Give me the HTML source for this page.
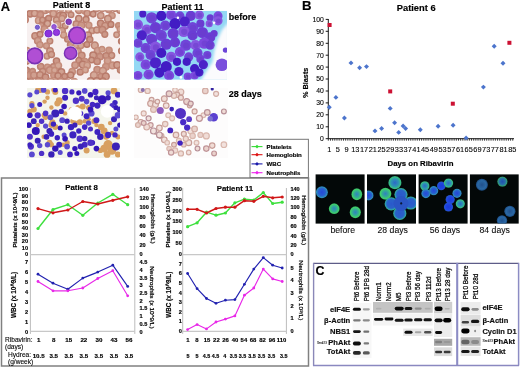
<!DOCTYPE html>
<html><head><meta charset="utf-8"><style>
html,body{margin:0;padding:0;background:#fff;width:520px;height:368px;overflow:hidden;}
svg{display:block;font-family:"Liberation Sans",sans-serif;filter:blur(0.35px);}
text[font-weight="bold"]{stroke:#000;stroke-width:0.16px;paint-order:stroke;}
text{stroke:#000;stroke-width:0.1px;paint-order:stroke;}
</style></head><body>
<svg width="520" height="368" viewBox="0 0 520 368" font-family="Liberation Sans">
<rect width="520" height="368" fill="#fff"/>
<filter id="mb" x="-30%" y="-30%" width="160%" height="160%"><feGaussianBlur stdDeviation="0.45"/></filter>
<filter id="mb2" x="-30%" y="-30%" width="160%" height="160%"><feGaussianBlur stdDeviation="1.5"/></filter>
<clipPath id="c1"><rect x="27" y="10.3" width="93" height="69.5"/></clipPath>
<g clip-path="url(#c1)">
<rect x="27" y="10.3" width="93" height="69.5" fill="#f7f0f0"/>
<circle cx="31.8" cy="9.3" r="2.8" fill="#d4a898" stroke="#c48c7a" stroke-width="1.5" filter="url(#mb)"/>
<circle cx="38.1" cy="8.5" r="2.8" fill="#d4a898" stroke="#bc8070" stroke-width="1.5" filter="url(#mb)"/>
<circle cx="44.9" cy="10.4" r="3.1" fill="#d4a898" stroke="#c08676" stroke-width="1.5" filter="url(#mb)"/>
<circle cx="48.4" cy="9.4" r="2.8" fill="#d4a898" stroke="#c08676" stroke-width="1.5" filter="url(#mb)"/>
<circle cx="54.4" cy="9.2" r="3.3" fill="#d4a898" stroke="#c08676" stroke-width="1.5" filter="url(#mb)"/>
<circle cx="60.9" cy="8.1" r="3.2" fill="#d4a898" stroke="#c48c7a" stroke-width="1.5" filter="url(#mb)"/>
<circle cx="68.5" cy="10.1" r="2.9" fill="#d4a898" stroke="#c08676" stroke-width="1.5" filter="url(#mb)"/>
<circle cx="78.9" cy="10.1" r="3.4" fill="#d0a090" stroke="#bc8070" stroke-width="1.5" filter="url(#mb)"/>
<circle cx="84.3" cy="10.3" r="3.4" fill="#cc9888" stroke="#c48c7a" stroke-width="1.5" filter="url(#mb)"/>
<circle cx="96.2" cy="8.3" r="3.4" fill="#d0a090" stroke="#bc8070" stroke-width="1.5" filter="url(#mb)"/>
<circle cx="102.1" cy="8.3" r="3.3" fill="#d4a898" stroke="#c08676" stroke-width="1.5" filter="url(#mb)"/>
<circle cx="108.7" cy="9.2" r="3.2" fill="#cc9888" stroke="#c08676" stroke-width="1.5" filter="url(#mb)"/>
<circle cx="114.8" cy="8.4" r="2.8" fill="#d4a898" stroke="#b87a6a" stroke-width="1.5" filter="url(#mb)"/>
<circle cx="119.9" cy="10.2" r="3.0" fill="#d0a090" stroke="#bc8070" stroke-width="1.5" filter="url(#mb)"/>
<circle cx="30.1" cy="13.7" r="3.2" fill="#cc9888" stroke="#b87a6a" stroke-width="1.5" filter="url(#mb)"/>
<circle cx="34.6" cy="13.4" r="3.1" fill="#d4a898" stroke="#bc8070" stroke-width="1.5" filter="url(#mb)"/>
<circle cx="40.4" cy="14.7" r="3.1" fill="#cc9888" stroke="#c08676" stroke-width="1.5" filter="url(#mb)"/>
<circle cx="53.3" cy="13.8" r="3.2" fill="#d4a898" stroke="#c08676" stroke-width="1.5" filter="url(#mb)"/>
<circle cx="59.5" cy="15.4" r="3.0" fill="#d0a090" stroke="#bc8070" stroke-width="1.5" filter="url(#mb)"/>
<circle cx="63.2" cy="15.5" r="3.2" fill="#cc9888" stroke="#b87a6a" stroke-width="1.5" filter="url(#mb)"/>
<circle cx="71.0" cy="14.7" r="2.8" fill="#d0a090" stroke="#bc8070" stroke-width="1.5" filter="url(#mb)"/>
<circle cx="87.2" cy="13.3" r="3.0" fill="#d0a090" stroke="#bc8070" stroke-width="1.5" filter="url(#mb)"/>
<circle cx="93.1" cy="14.1" r="2.8" fill="#d0a090" stroke="#b87a6a" stroke-width="1.5" filter="url(#mb)"/>
<circle cx="100.7" cy="15.6" r="3.2" fill="#d4a898" stroke="#c08676" stroke-width="1.5" filter="url(#mb)"/>
<circle cx="112.0" cy="15.5" r="3.1" fill="#d0a090" stroke="#c48c7a" stroke-width="1.5" filter="url(#mb)"/>
<circle cx="25.0" cy="19.7" r="3.3" fill="#cc9888" stroke="#c08676" stroke-width="1.5" filter="url(#mb)"/>
<circle cx="38.8" cy="20.5" r="3.3" fill="#d4a898" stroke="#c48c7a" stroke-width="1.5" filter="url(#mb)"/>
<circle cx="42.5" cy="20.0" r="2.7" fill="#d0a090" stroke="#bc8070" stroke-width="1.5" filter="url(#mb)"/>
<circle cx="48.6" cy="18.6" r="3.0" fill="#cc9888" stroke="#b87a6a" stroke-width="1.5" filter="url(#mb)"/>
<circle cx="56.5" cy="20.0" r="3.0" fill="#d4a898" stroke="#bc8070" stroke-width="1.5" filter="url(#mb)"/>
<circle cx="62.0" cy="18.4" r="3.0" fill="#d4a898" stroke="#c08676" stroke-width="1.5" filter="url(#mb)"/>
<circle cx="78.8" cy="18.7" r="3.1" fill="#d4a898" stroke="#b87a6a" stroke-width="1.5" filter="url(#mb)"/>
<circle cx="86.0" cy="19.6" r="3.0" fill="#d0a090" stroke="#b87a6a" stroke-width="1.5" filter="url(#mb)"/>
<circle cx="107.9" cy="18.7" r="3.3" fill="#d4a898" stroke="#bc8070" stroke-width="1.5" filter="url(#mb)"/>
<circle cx="41.3" cy="25.5" r="2.9" fill="#cc9888" stroke="#bc8070" stroke-width="1.5" filter="url(#mb)"/>
<circle cx="47.5" cy="23.6" r="3.1" fill="#d4a898" stroke="#b87a6a" stroke-width="1.5" filter="url(#mb)"/>
<circle cx="57.6" cy="24.6" r="3.3" fill="#d0a090" stroke="#c08676" stroke-width="1.5" filter="url(#mb)"/>
<circle cx="65.1" cy="25.9" r="2.8" fill="#d0a090" stroke="#b87a6a" stroke-width="1.5" filter="url(#mb)"/>
<circle cx="76.1" cy="23.9" r="3.0" fill="#d0a090" stroke="#bc8070" stroke-width="1.5" filter="url(#mb)"/>
<circle cx="81.4" cy="25.4" r="3.4" fill="#cc9888" stroke="#c08676" stroke-width="1.5" filter="url(#mb)"/>
<circle cx="88.8" cy="25.2" r="3.0" fill="#d0a090" stroke="#c48c7a" stroke-width="1.5" filter="url(#mb)"/>
<circle cx="100.7" cy="23.5" r="3.2" fill="#cc9888" stroke="#b87a6a" stroke-width="1.5" filter="url(#mb)"/>
<circle cx="105.2" cy="25.9" r="3.3" fill="#d0a090" stroke="#bc8070" stroke-width="1.5" filter="url(#mb)"/>
<circle cx="110.9" cy="24.4" r="2.9" fill="#cc9888" stroke="#b87a6a" stroke-width="1.5" filter="url(#mb)"/>
<circle cx="118.4" cy="25.6" r="2.8" fill="#cc9888" stroke="#c48c7a" stroke-width="1.5" filter="url(#mb)"/>
<circle cx="44.4" cy="29.0" r="3.3" fill="#cc9888" stroke="#c08676" stroke-width="1.5" filter="url(#mb)"/>
<circle cx="61.9" cy="30.9" r="3.4" fill="#d0a090" stroke="#bc8070" stroke-width="1.5" filter="url(#mb)"/>
<circle cx="92.0" cy="30.7" r="2.9" fill="#d4a898" stroke="#c08676" stroke-width="1.5" filter="url(#mb)"/>
<circle cx="96.9" cy="30.0" r="3.1" fill="#d4a898" stroke="#bc8070" stroke-width="1.5" filter="url(#mb)"/>
<circle cx="102.4" cy="29.9" r="3.3" fill="#cc9888" stroke="#bc8070" stroke-width="1.5" filter="url(#mb)"/>
<circle cx="120.2" cy="29.2" r="2.9" fill="#d4a898" stroke="#c48c7a" stroke-width="1.5" filter="url(#mb)"/>
<circle cx="35.1" cy="36.0" r="3.2" fill="#d0a090" stroke="#bc8070" stroke-width="1.5" filter="url(#mb)"/>
<circle cx="40.0" cy="34.3" r="2.9" fill="#d0a090" stroke="#b87a6a" stroke-width="1.5" filter="url(#mb)"/>
<circle cx="63.6" cy="35.0" r="3.0" fill="#d4a898" stroke="#c48c7a" stroke-width="1.5" filter="url(#mb)"/>
<circle cx="88.1" cy="35.2" r="3.3" fill="#d0a090" stroke="#b87a6a" stroke-width="1.5" filter="url(#mb)"/>
<circle cx="104.8" cy="34.3" r="2.9" fill="#cc9888" stroke="#bc8070" stroke-width="1.5" filter="url(#mb)"/>
<circle cx="116.6" cy="34.7" r="2.7" fill="#d4a898" stroke="#c08676" stroke-width="1.5" filter="url(#mb)"/>
<circle cx="37.8" cy="40.7" r="3.2" fill="#d0a090" stroke="#c08676" stroke-width="1.5" filter="url(#mb)"/>
<circle cx="49.9" cy="41.1" r="2.8" fill="#d0a090" stroke="#bc8070" stroke-width="1.5" filter="url(#mb)"/>
<circle cx="67.5" cy="39.2" r="2.8" fill="#cc9888" stroke="#bc8070" stroke-width="1.5" filter="url(#mb)"/>
<circle cx="89.8" cy="39.4" r="3.0" fill="#cc9888" stroke="#b87a6a" stroke-width="1.5" filter="url(#mb)"/>
<circle cx="121.4" cy="41.2" r="2.8" fill="#cc9888" stroke="#b87a6a" stroke-width="1.5" filter="url(#mb)"/>
<circle cx="39.9" cy="44.8" r="3.0" fill="#d0a090" stroke="#c48c7a" stroke-width="1.5" filter="url(#mb)"/>
<circle cx="46.4" cy="45.8" r="2.9" fill="#d0a090" stroke="#c48c7a" stroke-width="1.5" filter="url(#mb)"/>
<circle cx="70.6" cy="44.8" r="3.1" fill="#cc9888" stroke="#bc8070" stroke-width="1.5" filter="url(#mb)"/>
<circle cx="76.2" cy="45.2" r="2.8" fill="#d4a898" stroke="#c48c7a" stroke-width="1.5" filter="url(#mb)"/>
<circle cx="80.9" cy="45.5" r="2.9" fill="#d4a898" stroke="#c48c7a" stroke-width="1.5" filter="url(#mb)"/>
<circle cx="86.9" cy="44.5" r="2.8" fill="#cc9888" stroke="#b87a6a" stroke-width="1.5" filter="url(#mb)"/>
<circle cx="94.8" cy="45.4" r="3.4" fill="#d4a898" stroke="#bc8070" stroke-width="1.5" filter="url(#mb)"/>
<circle cx="26.9" cy="50.5" r="3.0" fill="#cc9888" stroke="#c48c7a" stroke-width="1.5" filter="url(#mb)"/>
<circle cx="50.0" cy="51.0" r="3.2" fill="#d4a898" stroke="#bc8070" stroke-width="1.5" filter="url(#mb)"/>
<circle cx="78.1" cy="51.3" r="3.0" fill="#d0a090" stroke="#c08676" stroke-width="1.5" filter="url(#mb)"/>
<circle cx="97.6" cy="50.6" r="3.1" fill="#d0a090" stroke="#c48c7a" stroke-width="1.5" filter="url(#mb)"/>
<circle cx="102.0" cy="49.3" r="2.8" fill="#d0a090" stroke="#c48c7a" stroke-width="1.5" filter="url(#mb)"/>
<circle cx="109.0" cy="50.3" r="3.1" fill="#cc9888" stroke="#c48c7a" stroke-width="1.5" filter="url(#mb)"/>
<circle cx="121.5" cy="50.9" r="2.8" fill="#d4a898" stroke="#b87a6a" stroke-width="1.5" filter="url(#mb)"/>
<circle cx="47.0" cy="56.1" r="2.9" fill="#d4a898" stroke="#c08676" stroke-width="1.5" filter="url(#mb)"/>
<circle cx="51.4" cy="54.4" r="3.0" fill="#d0a090" stroke="#bc8070" stroke-width="1.5" filter="url(#mb)"/>
<circle cx="81.7" cy="55.5" r="3.3" fill="#cc9888" stroke="#bc8070" stroke-width="1.5" filter="url(#mb)"/>
<circle cx="93.2" cy="55.3" r="3.3" fill="#d0a090" stroke="#b87a6a" stroke-width="1.5" filter="url(#mb)"/>
<circle cx="100.1" cy="56.7" r="3.1" fill="#cc9888" stroke="#c08676" stroke-width="1.5" filter="url(#mb)"/>
<circle cx="106.0" cy="55.7" r="2.9" fill="#cc9888" stroke="#bc8070" stroke-width="1.5" filter="url(#mb)"/>
<circle cx="111.7" cy="55.5" r="2.9" fill="#d0a090" stroke="#bc8070" stroke-width="1.5" filter="url(#mb)"/>
<circle cx="26.2" cy="61.1" r="3.2" fill="#cc9888" stroke="#b87a6a" stroke-width="1.5" filter="url(#mb)"/>
<circle cx="56.5" cy="61.1" r="3.1" fill="#cc9888" stroke="#b87a6a" stroke-width="1.5" filter="url(#mb)"/>
<circle cx="78.8" cy="60.4" r="2.8" fill="#cc9888" stroke="#b87a6a" stroke-width="1.5" filter="url(#mb)"/>
<circle cx="85.1" cy="61.4" r="2.8" fill="#cc9888" stroke="#c48c7a" stroke-width="1.5" filter="url(#mb)"/>
<circle cx="91.6" cy="60.0" r="2.8" fill="#d0a090" stroke="#b87a6a" stroke-width="1.5" filter="url(#mb)"/>
<circle cx="97.2" cy="61.4" r="3.1" fill="#cc9888" stroke="#bc8070" stroke-width="1.5" filter="url(#mb)"/>
<circle cx="107.6" cy="61.0" r="3.2" fill="#d0a090" stroke="#c48c7a" stroke-width="1.5" filter="url(#mb)"/>
<circle cx="40.7" cy="66.5" r="3.1" fill="#cc9888" stroke="#bc8070" stroke-width="1.5" filter="url(#mb)"/>
<circle cx="47.3" cy="66.9" r="2.7" fill="#d0a090" stroke="#c48c7a" stroke-width="1.5" filter="url(#mb)"/>
<circle cx="53.5" cy="66.9" r="3.1" fill="#d0a090" stroke="#bc8070" stroke-width="1.5" filter="url(#mb)"/>
<circle cx="58.3" cy="65.6" r="3.2" fill="#d4a898" stroke="#c48c7a" stroke-width="1.5" filter="url(#mb)"/>
<circle cx="75.1" cy="65.3" r="3.2" fill="#d0a090" stroke="#c08676" stroke-width="1.5" filter="url(#mb)"/>
<circle cx="82.7" cy="64.6" r="3.3" fill="#d0a090" stroke="#b87a6a" stroke-width="1.5" filter="url(#mb)"/>
<circle cx="87.2" cy="65.4" r="3.1" fill="#d4a898" stroke="#c48c7a" stroke-width="1.5" filter="url(#mb)"/>
<circle cx="106.0" cy="66.8" r="3.3" fill="#cc9888" stroke="#c48c7a" stroke-width="1.5" filter="url(#mb)"/>
<circle cx="112.5" cy="65.4" r="3.4" fill="#d0a090" stroke="#c48c7a" stroke-width="1.5" filter="url(#mb)"/>
<circle cx="117.2" cy="65.1" r="3.3" fill="#d0a090" stroke="#b87a6a" stroke-width="1.5" filter="url(#mb)"/>
<circle cx="26.4" cy="70.3" r="3.0" fill="#cc9888" stroke="#b87a6a" stroke-width="1.5" filter="url(#mb)"/>
<circle cx="32.6" cy="71.4" r="2.8" fill="#cc9888" stroke="#c08676" stroke-width="1.5" filter="url(#mb)"/>
<circle cx="42.8" cy="71.5" r="3.1" fill="#d0a090" stroke="#bc8070" stroke-width="1.5" filter="url(#mb)"/>
<circle cx="49.8" cy="70.1" r="3.3" fill="#d0a090" stroke="#c08676" stroke-width="1.5" filter="url(#mb)"/>
<circle cx="54.5" cy="70.3" r="2.8" fill="#d4a898" stroke="#c48c7a" stroke-width="1.5" filter="url(#mb)"/>
<circle cx="61.3" cy="72.0" r="3.3" fill="#d0a090" stroke="#b87a6a" stroke-width="1.5" filter="url(#mb)"/>
<circle cx="72.2" cy="71.7" r="3.1" fill="#d0a090" stroke="#c48c7a" stroke-width="1.5" filter="url(#mb)"/>
<circle cx="80.2" cy="72.0" r="3.0" fill="#cc9888" stroke="#b87a6a" stroke-width="1.5" filter="url(#mb)"/>
<circle cx="85.4" cy="69.9" r="2.8" fill="#d4a898" stroke="#c48c7a" stroke-width="1.5" filter="url(#mb)"/>
<circle cx="97.2" cy="69.7" r="3.2" fill="#cc9888" stroke="#c08676" stroke-width="1.5" filter="url(#mb)"/>
<circle cx="102.9" cy="70.8" r="3.4" fill="#d4a898" stroke="#c08676" stroke-width="1.5" filter="url(#mb)"/>
<circle cx="120.5" cy="69.9" r="3.0" fill="#cc9888" stroke="#bc8070" stroke-width="1.5" filter="url(#mb)"/>
<circle cx="28.5" cy="75.5" r="3.1" fill="#cc9888" stroke="#c48c7a" stroke-width="1.5" filter="url(#mb)"/>
<circle cx="33.9" cy="75.2" r="3.2" fill="#d0a090" stroke="#c08676" stroke-width="1.5" filter="url(#mb)"/>
<circle cx="40.0" cy="74.9" r="3.2" fill="#d0a090" stroke="#bc8070" stroke-width="1.5" filter="url(#mb)"/>
<circle cx="45.5" cy="77.2" r="3.2" fill="#cc9888" stroke="#b87a6a" stroke-width="1.5" filter="url(#mb)"/>
<circle cx="53.6" cy="75.2" r="2.8" fill="#cc9888" stroke="#c48c7a" stroke-width="1.5" filter="url(#mb)"/>
<circle cx="58.0" cy="75.8" r="3.0" fill="#d0a090" stroke="#b87a6a" stroke-width="1.5" filter="url(#mb)"/>
<circle cx="64.7" cy="76.3" r="2.9" fill="#cc9888" stroke="#b87a6a" stroke-width="1.5" filter="url(#mb)"/>
<circle cx="70.6" cy="75.1" r="3.1" fill="#d0a090" stroke="#b87a6a" stroke-width="1.5" filter="url(#mb)"/>
<circle cx="93.9" cy="75.2" r="3.4" fill="#d4a898" stroke="#c08676" stroke-width="1.5" filter="url(#mb)"/>
<circle cx="100.8" cy="76.3" r="2.8" fill="#cc9888" stroke="#c08676" stroke-width="1.5" filter="url(#mb)"/>
<circle cx="105.8" cy="76.5" r="3.4" fill="#cc9888" stroke="#b87a6a" stroke-width="1.5" filter="url(#mb)"/>
<circle cx="26.1" cy="81.3" r="2.9" fill="#d4a898" stroke="#b87a6a" stroke-width="1.5" filter="url(#mb)"/>
<circle cx="31.0" cy="82.2" r="3.2" fill="#d0a090" stroke="#b87a6a" stroke-width="1.5" filter="url(#mb)"/>
<circle cx="38.4" cy="80.8" r="3.1" fill="#cc9888" stroke="#bc8070" stroke-width="1.5" filter="url(#mb)"/>
<circle cx="50.7" cy="81.5" r="3.2" fill="#d4a898" stroke="#c48c7a" stroke-width="1.5" filter="url(#mb)"/>
<circle cx="55.7" cy="81.9" r="2.8" fill="#d0a090" stroke="#c48c7a" stroke-width="1.5" filter="url(#mb)"/>
<circle cx="60.5" cy="80.9" r="2.8" fill="#cc9888" stroke="#c08676" stroke-width="1.5" filter="url(#mb)"/>
<circle cx="66.7" cy="82.2" r="3.2" fill="#cc9888" stroke="#c08676" stroke-width="1.5" filter="url(#mb)"/>
<circle cx="74.3" cy="81.4" r="3.0" fill="#cc9888" stroke="#c48c7a" stroke-width="1.5" filter="url(#mb)"/>
<circle cx="90.7" cy="81.0" r="3.3" fill="#d4a898" stroke="#b87a6a" stroke-width="1.5" filter="url(#mb)"/>
<circle cx="96.8" cy="81.0" r="3.3" fill="#d4a898" stroke="#b87a6a" stroke-width="1.5" filter="url(#mb)"/>
<circle cx="103.0" cy="81.0" r="2.9" fill="#d4a898" stroke="#b87a6a" stroke-width="1.5" filter="url(#mb)"/>
<circle cx="77.1" cy="35.4" r="9.5" fill="#f2ecf6" filter="url(#mb)"/>
<circle cx="34.8" cy="55.9" r="9.0" fill="#f2ecf6" filter="url(#mb)"/>
<circle cx="70.6" cy="53.2" r="7.4" fill="#f2ecf6" filter="url(#mb)"/>
<circle cx="48.5" cy="33.5" r="4.8" fill="#f2ecf6" filter="url(#mb)"/>
<circle cx="56.5" cy="32.4" r="4.4" fill="#f2ecf6" filter="url(#mb)"/>
<circle cx="54.0" cy="26.8" r="3.5" fill="#f2ecf6" filter="url(#mb)"/>
<circle cx="68.7" cy="21.8" r="4.0" fill="#f2ecf6" filter="url(#mb)"/>
<circle cx="37.4" cy="27.3" r="3.3" fill="#f2ecf6" filter="url(#mb)"/>
<circle cx="77.1" cy="35.4" r="8.3" fill="#b44cd4" stroke="#7a30b4" stroke-width="1.8" filter="url(#mb)"/>
<circle cx="34.8" cy="55.9" r="7.8" fill="#b050d4" stroke="#7a30b4" stroke-width="1.7" filter="url(#mb)"/>
<circle cx="70.6" cy="53.2" r="6.2" fill="#a848d0" stroke="#7a30b4" stroke-width="1.4" filter="url(#mb)"/>
<circle cx="48.5" cy="33.5" r="3.6" fill="#8c30de" stroke="#6a20c4" stroke-width="0.8" filter="url(#mb)"/>
<circle cx="56.5" cy="32.4" r="3.2" fill="#9438de" stroke="#6a20c4" stroke-width="0.8" filter="url(#mb)"/>
<circle cx="54.0" cy="26.8" r="2.3" fill="#9a58d8" stroke="#7a40c8" stroke-width="0.8" filter="url(#mb)"/>
<circle cx="68.7" cy="21.8" r="2.8" fill="#8a40b8" stroke="#6a2aa0" stroke-width="0.8" filter="url(#mb)"/>
<circle cx="37.4" cy="27.3" r="2.1" fill="#7a60d0" stroke="#6048c4" stroke-width="0.8" filter="url(#mb)"/>
</g>
<clipPath id="c2"><rect x="134" y="10.8" width="93" height="69"/></clipPath>
<g clip-path="url(#c2)">
<rect x="134" y="10.8" width="93" height="69" fill="#94d8f4"/>
<circle cx="142.8" cy="13.9" r="3.6" fill="#4c24c8" filter="url(#mb)"/>
<circle cx="151.6" cy="17.8" r="5.6" fill="#7044d8" filter="url(#mb)"/>
<circle cx="152.0" cy="18.1" r="3.1" fill="#6a3ccc" opacity="0.55" filter="url(#mb)"/>
<circle cx="161.3" cy="15.9" r="5.1" fill="#421cc4" filter="url(#mb)"/>
<circle cx="171.1" cy="14.9" r="5.1" fill="#7c4ade" filter="url(#mb)"/>
<circle cx="171.5" cy="15.2" r="2.8" fill="#6a3ccc" opacity="0.55" filter="url(#mb)"/>
<circle cx="179.9" cy="15.9" r="4.6" fill="#7044d8" filter="url(#mb)"/>
<circle cx="180.3" cy="16.2" r="2.5" fill="#6a3ccc" opacity="0.55" filter="url(#mb)"/>
<circle cx="190.7" cy="15.9" r="5.1" fill="#6a3ed4" filter="url(#mb)"/>
<circle cx="191.1" cy="16.2" r="2.8" fill="#6a3ccc" opacity="0.55" filter="url(#mb)"/>
<circle cx="199.4" cy="14.9" r="4.6" fill="#8656e0" filter="url(#mb)"/>
<circle cx="199.8" cy="15.2" r="2.5" fill="#6a3ccc" opacity="0.55" filter="url(#mb)"/>
<circle cx="210.2" cy="17.8" r="3.6" fill="#6a3ed4" filter="url(#mb)"/>
<circle cx="210.6" cy="18.1" r="2.0" fill="#6a3ccc" opacity="0.55" filter="url(#mb)"/>
<circle cx="218.0" cy="15.9" r="4.6" fill="#7c4ade" filter="url(#mb)"/>
<circle cx="218.4" cy="16.2" r="2.5" fill="#6a3ccc" opacity="0.55" filter="url(#mb)"/>
<circle cx="137.9" cy="24.7" r="5.1" fill="#8656e0" filter="url(#mb)"/>
<circle cx="138.3" cy="25.0" r="2.8" fill="#6a3ccc" opacity="0.55" filter="url(#mb)"/>
<circle cx="146.7" cy="29.6" r="5.1" fill="#8656e0" filter="url(#mb)"/>
<circle cx="147.1" cy="29.9" r="2.8" fill="#6a3ccc" opacity="0.55" filter="url(#mb)"/>
<circle cx="155.5" cy="27.6" r="5.6" fill="#6a3ed4" filter="url(#mb)"/>
<circle cx="155.9" cy="27.9" r="3.1" fill="#6a3ccc" opacity="0.55" filter="url(#mb)"/>
<circle cx="165.2" cy="25.6" r="5.1" fill="#7044d8" filter="url(#mb)"/>
<circle cx="165.6" cy="25.9" r="2.8" fill="#6a3ccc" opacity="0.55" filter="url(#mb)"/>
<circle cx="175.0" cy="23.7" r="5.6" fill="#421cc4" filter="url(#mb)"/>
<circle cx="184.8" cy="21.7" r="5.1" fill="#4c24c8" filter="url(#mb)"/>
<circle cx="192.6" cy="27.6" r="5.6" fill="#7044d8" filter="url(#mb)"/>
<circle cx="193.0" cy="27.9" r="3.1" fill="#6a3ccc" opacity="0.55" filter="url(#mb)"/>
<circle cx="200.4" cy="23.7" r="4.1" fill="#6a3ed4" filter="url(#mb)"/>
<circle cx="200.8" cy="24.0" r="2.2" fill="#6a3ccc" opacity="0.55" filter="url(#mb)"/>
<circle cx="209.2" cy="23.7" r="3.6" fill="#8656e0" filter="url(#mb)"/>
<circle cx="209.6" cy="24.0" r="2.0" fill="#6a3ccc" opacity="0.55" filter="url(#mb)"/>
<circle cx="218.0" cy="20.8" r="4.6" fill="#8656e0" filter="url(#mb)"/>
<circle cx="218.4" cy="21.1" r="2.5" fill="#6a3ccc" opacity="0.55" filter="url(#mb)"/>
<circle cx="141.8" cy="35.4" r="5.1" fill="#4c24c8" filter="url(#mb)"/>
<circle cx="151.6" cy="39.3" r="5.6" fill="#6a3ed4" filter="url(#mb)"/>
<circle cx="152.0" cy="39.6" r="3.1" fill="#6a3ccc" opacity="0.55" filter="url(#mb)"/>
<circle cx="161.3" cy="35.4" r="5.6" fill="#7044d8" filter="url(#mb)"/>
<circle cx="161.7" cy="35.7" r="3.1" fill="#6a3ccc" opacity="0.55" filter="url(#mb)"/>
<circle cx="173.1" cy="33.5" r="5.6" fill="#6a3ed4" filter="url(#mb)"/>
<circle cx="173.5" cy="33.8" r="3.1" fill="#6a3ccc" opacity="0.55" filter="url(#mb)"/>
<circle cx="183.8" cy="31.5" r="5.6" fill="#8656e0" filter="url(#mb)"/>
<circle cx="184.2" cy="31.8" r="3.1" fill="#6a3ccc" opacity="0.55" filter="url(#mb)"/>
<circle cx="192.6" cy="35.4" r="5.1" fill="#6a3ed4" filter="url(#mb)"/>
<circle cx="193.0" cy="35.7" r="2.8" fill="#6a3ccc" opacity="0.55" filter="url(#mb)"/>
<circle cx="202.4" cy="32.5" r="5.6" fill="#6a3ed4" filter="url(#mb)"/>
<circle cx="202.8" cy="32.8" r="3.1" fill="#6a3ccc" opacity="0.55" filter="url(#mb)"/>
<circle cx="210.2" cy="37.4" r="5.1" fill="#6a3ed4" filter="url(#mb)"/>
<circle cx="210.6" cy="37.7" r="2.8" fill="#6a3ccc" opacity="0.55" filter="url(#mb)"/>
<circle cx="137.9" cy="43.2" r="4.6" fill="#7044d8" filter="url(#mb)"/>
<circle cx="138.3" cy="43.5" r="2.5" fill="#6a3ccc" opacity="0.55" filter="url(#mb)"/>
<circle cx="145.7" cy="48.1" r="5.1" fill="#7044d8" filter="url(#mb)"/>
<circle cx="146.1" cy="48.4" r="2.8" fill="#6a3ccc" opacity="0.55" filter="url(#mb)"/>
<circle cx="155.5" cy="47.1" r="5.6" fill="#8656e0" filter="url(#mb)"/>
<circle cx="155.9" cy="47.4" r="3.1" fill="#6a3ccc" opacity="0.55" filter="url(#mb)"/>
<circle cx="166.2" cy="44.2" r="5.6" fill="#6a3ed4" filter="url(#mb)"/>
<circle cx="166.6" cy="44.5" r="3.1" fill="#6a3ccc" opacity="0.55" filter="url(#mb)"/>
<circle cx="175.0" cy="42.3" r="5.1" fill="#6a3ed4" filter="url(#mb)"/>
<circle cx="175.4" cy="42.6" r="2.8" fill="#6a3ccc" opacity="0.55" filter="url(#mb)"/>
<circle cx="185.8" cy="45.2" r="5.6" fill="#7044d8" filter="url(#mb)"/>
<circle cx="186.2" cy="45.5" r="3.1" fill="#6a3ccc" opacity="0.55" filter="url(#mb)"/>
<circle cx="195.5" cy="45.2" r="5.1" fill="#8656e0" filter="url(#mb)"/>
<circle cx="195.9" cy="45.5" r="2.8" fill="#6a3ccc" opacity="0.55" filter="url(#mb)"/>
<circle cx="204.3" cy="43.2" r="5.6" fill="#7c4ade" filter="url(#mb)"/>
<circle cx="204.7" cy="43.5" r="3.1" fill="#6a3ccc" opacity="0.55" filter="url(#mb)"/>
<circle cx="139.8" cy="56.9" r="4.6" fill="#8656e0" filter="url(#mb)"/>
<circle cx="140.2" cy="57.2" r="2.5" fill="#6a3ccc" opacity="0.55" filter="url(#mb)"/>
<circle cx="150.6" cy="55.0" r="5.1" fill="#7044d8" filter="url(#mb)"/>
<circle cx="151.0" cy="55.3" r="2.8" fill="#6a3ccc" opacity="0.55" filter="url(#mb)"/>
<circle cx="161.3" cy="53.0" r="5.1" fill="#421cc4" filter="url(#mb)"/>
<circle cx="171.1" cy="56.9" r="5.1" fill="#8656e0" filter="url(#mb)"/>
<circle cx="171.5" cy="57.2" r="2.8" fill="#6a3ccc" opacity="0.55" filter="url(#mb)"/>
<circle cx="179.9" cy="52.0" r="5.1" fill="#7c4ade" filter="url(#mb)"/>
<circle cx="180.3" cy="52.3" r="2.8" fill="#6a3ccc" opacity="0.55" filter="url(#mb)"/>
<circle cx="188.7" cy="56.9" r="4.6" fill="#7044d8" filter="url(#mb)"/>
<circle cx="189.1" cy="57.2" r="2.5" fill="#6a3ccc" opacity="0.55" filter="url(#mb)"/>
<circle cx="197.5" cy="53.0" r="5.1" fill="#7044d8" filter="url(#mb)"/>
<circle cx="197.9" cy="53.3" r="2.8" fill="#6a3ccc" opacity="0.55" filter="url(#mb)"/>
<circle cx="145.7" cy="64.7" r="5.1" fill="#7c4ade" filter="url(#mb)"/>
<circle cx="146.1" cy="65.0" r="2.8" fill="#6a3ccc" opacity="0.55" filter="url(#mb)"/>
<circle cx="155.5" cy="62.8" r="5.6" fill="#4c24c8" filter="url(#mb)"/>
<circle cx="166.2" cy="66.7" r="5.6" fill="#421cc4" filter="url(#mb)"/>
<circle cx="177.0" cy="61.8" r="4.1" fill="#421cc4" filter="url(#mb)"/>
<circle cx="186.7" cy="61.8" r="4.1" fill="#421cc4" filter="url(#mb)"/>
<circle cx="194.6" cy="68.7" r="4.6" fill="#421cc4" filter="url(#mb)"/>
<circle cx="200.4" cy="58.9" r="4.1" fill="#7044d8" filter="url(#mb)"/>
<circle cx="200.8" cy="59.2" r="2.2" fill="#6a3ccc" opacity="0.55" filter="url(#mb)"/>
<circle cx="137.9" cy="75.5" r="4.6" fill="#7c4ade" filter="url(#mb)"/>
<circle cx="138.3" cy="75.8" r="2.5" fill="#6a3ccc" opacity="0.55" filter="url(#mb)"/>
<circle cx="148.6" cy="74.5" r="5.1" fill="#7c4ade" filter="url(#mb)"/>
<circle cx="149.0" cy="74.8" r="2.8" fill="#6a3ccc" opacity="0.55" filter="url(#mb)"/>
<circle cx="159.4" cy="72.6" r="5.1" fill="#421cc4" filter="url(#mb)"/>
<circle cx="169.1" cy="75.5" r="5.1" fill="#7c4ade" filter="url(#mb)"/>
<circle cx="169.5" cy="75.8" r="2.8" fill="#6a3ccc" opacity="0.55" filter="url(#mb)"/>
<circle cx="178.9" cy="71.6" r="4.6" fill="#4c24c8" filter="url(#mb)"/>
<circle cx="187.7" cy="76.5" r="4.1" fill="#7c4ade" filter="url(#mb)"/>
<circle cx="188.1" cy="76.8" r="2.2" fill="#6a3ccc" opacity="0.55" filter="url(#mb)"/>
<circle cx="194.6" cy="75.5" r="4.1" fill="#7c4ade" filter="url(#mb)"/>
<circle cx="195.0" cy="75.8" r="2.2" fill="#6a3ccc" opacity="0.55" filter="url(#mb)"/>
<circle cx="210.2" cy="45.2" r="4.6" fill="#6a3ed4" filter="url(#mb)"/>
<circle cx="210.6" cy="45.5" r="2.5" fill="#6a3ccc" opacity="0.55" filter="url(#mb)"/>
<circle cx="207.3" cy="55.0" r="4.1" fill="#7044d8" filter="url(#mb)"/>
<circle cx="207.7" cy="55.3" r="2.2" fill="#6a3ccc" opacity="0.55" filter="url(#mb)"/>
<circle cx="203.4" cy="64.7" r="4.6" fill="#4c24c8" filter="url(#mb)"/>
<circle cx="199.4" cy="72.6" r="4.1" fill="#421cc4" filter="url(#mb)"/>
<circle cx="214.1" cy="33.5" r="3.6" fill="#6a3ed4" filter="url(#mb)"/>
<circle cx="214.5" cy="33.8" r="2.0" fill="#6a3ccc" opacity="0.55" filter="url(#mb)"/>
<polygon points="229.0,22.0 222.0,30.0 217.5,40.0 214.5,50.0 212.5,62.0 206.0,72.0 201.0,80.0 199.0,82.0 229.0,82.0" fill="#fbfbfd" filter="url(#mb2)"/>
<circle cx="221.9" cy="64.7" r="6.3" fill="#7a50dc" filter="url(#mb)"/>
<circle cx="225.5" cy="50.1" r="2.7" fill="#6c44d8" filter="url(#mb)"/>
<circle cx="180.9" cy="77.4" r="1.3" fill="#fff"/>
<circle cx="214.1" cy="22.7" r="1.3" fill="#fff"/>
<circle cx="177.9" cy="17.8" r="1.3" fill="#fff"/>
</g>
<clipPath id="c3"><rect x="27" y="88" width="93" height="70"/></clipPath>
<g clip-path="url(#c3)">
<rect x="27" y="88" width="93" height="70" fill="#f4f5ec"/>
<circle cx="39.7" cy="89.9" r="3.2" fill="#d8a060" filter="url(#mb)"/>
<circle cx="55.3" cy="91.9" r="3.0" fill="#d8a060" filter="url(#mb)"/>
<circle cx="59.2" cy="100.7" r="3.4" fill="#d8a060" filter="url(#mb)"/>
<circle cx="44.6" cy="115.3" r="3.0" fill="#d8a060" filter="url(#mb)"/>
<circle cx="52.4" cy="122.2" r="3.0" fill="#d8a060" filter="url(#mb)"/>
<circle cx="55.3" cy="127.1" r="3.0" fill="#d8a060" filter="url(#mb)"/>
<circle cx="77.8" cy="107.5" r="2.6" fill="#d8a060" filter="url(#mb)"/>
<circle cx="82.7" cy="106.5" r="3.0" fill="#d8a060" filter="url(#mb)"/>
<circle cx="79.8" cy="122.2" r="3.0" fill="#d8a060" filter="url(#mb)"/>
<circle cx="88.6" cy="107.5" r="2.6" fill="#d8a060" filter="url(#mb)"/>
<circle cx="101.3" cy="127.1" r="3.4" fill="#d8a060" filter="url(#mb)"/>
<circle cx="104.2" cy="131.0" r="3.4" fill="#d8a060" filter="url(#mb)"/>
<circle cx="108.1" cy="144.7" r="4.7" fill="#d8a060" filter="url(#mb)"/>
<circle cx="112.0" cy="150.5" r="4.3" fill="#d8a060" filter="url(#mb)"/>
<circle cx="104.2" cy="148.6" r="3.9" fill="#d8a060" filter="url(#mb)"/>
<circle cx="86.6" cy="150.5" r="3.0" fill="#d8a060" filter="url(#mb)"/>
<circle cx="49.5" cy="142.7" r="3.0" fill="#d8a060" filter="url(#mb)"/>
<circle cx="67.1" cy="142.7" r="2.6" fill="#d8a060" filter="url(#mb)"/>
<circle cx="31.9" cy="103.6" r="2.6" fill="#d8a060" filter="url(#mb)"/>
<circle cx="114.0" cy="90.9" r="3.4" fill="#d8a060" filter="url(#mb)"/>
<circle cx="94.4" cy="121.2" r="3.0" fill="#d8a060" filter="url(#mb)"/>
<circle cx="72.9" cy="121.2" r="2.6" fill="#d8a060" filter="url(#mb)"/>
<circle cx="117.9" cy="136.8" r="2.6" fill="#d8a060" filter="url(#mb)"/>
<circle cx="29.9" cy="111.4" r="2.6" fill="#d8a060" filter="url(#mb)"/>
<circle cx="37.7" cy="125.1" r="2.2" fill="#d8a060" filter="url(#mb)"/>
<circle cx="65.1" cy="113.4" r="2.2" fill="#d8a060" filter="url(#mb)"/>
<circle cx="110.1" cy="123.1" r="2.2" fill="#d8a060" filter="url(#mb)"/>
<circle cx="47.5" cy="97.7" r="2.2" fill="#d8a060" filter="url(#mb)"/>
<circle cx="33.8" cy="109.5" r="3.0" fill="#d8a060" filter="url(#mb)"/>
<circle cx="45.6" cy="117.3" r="2.6" fill="#d8a060" filter="url(#mb)"/>
<circle cx="51.4" cy="125.1" r="3.0" fill="#d8a060" filter="url(#mb)"/>
<circle cx="37.7" cy="89.9" r="2.6" fill="#d8a060" filter="url(#mb)"/>
<circle cx="57.3" cy="103.6" r="3.0" fill="#d8a060" filter="url(#mb)"/>
<circle cx="106.2" cy="136.8" r="3.0" fill="#d8a060" filter="url(#mb)"/>
<circle cx="117.9" cy="154.4" r="3.0" fill="#d8a060" filter="url(#mb)"/>
<circle cx="107.1" cy="154.4" r="3.4" fill="#d8a060" filter="url(#mb)"/>
<circle cx="100.3" cy="150.5" r="2.6" fill="#d8a060" filter="url(#mb)"/>
<circle cx="63.1" cy="144.7" r="2.2" fill="#d8a060" filter="url(#mb)"/>
<circle cx="51.4" cy="144.7" r="2.6" fill="#d8a060" filter="url(#mb)"/>
<circle cx="88.6" cy="119.2" r="2.2" fill="#d8a060" filter="url(#mb)"/>
<circle cx="47.5" cy="91.9" r="2.6" fill="#d8a060" filter="url(#mb)"/>
<circle cx="53.4" cy="89.9" r="2.2" fill="#d8a060" filter="url(#mb)"/>
<circle cx="44.6" cy="101.6" r="2.2" fill="#d8a060" filter="url(#mb)"/>
<circle cx="51.4" cy="107.5" r="2.2" fill="#d8a060" filter="url(#mb)"/>
<circle cx="84.7" cy="121.2" r="2.2" fill="#d8a060" filter="url(#mb)"/>
<circle cx="74.9" cy="123.1" r="2.6" fill="#d8a060" filter="url(#mb)"/>
<circle cx="71.0" cy="109.5" r="2.2" fill="#d8a060" filter="url(#mb)"/>
<circle cx="96.4" cy="125.1" r="2.2" fill="#d8a060" filter="url(#mb)"/>
<circle cx="112.0" cy="132.9" r="2.2" fill="#d8a060" filter="url(#mb)"/>
<circle cx="29.9" cy="136.8" r="2.2" fill="#d8a060" filter="url(#mb)"/>
<circle cx="43.6" cy="136.8" r="2.2" fill="#d8a060" filter="url(#mb)"/>
<circle cx="29.9" cy="94.8" r="2.6" fill="#5a48d0" filter="url(#mb)"/>
<circle cx="36.8" cy="91.9" r="2.5" fill="#5a48d0" filter="url(#mb)"/>
<circle cx="43.6" cy="89.9" r="2.8" fill="#5a48d0" filter="url(#mb)"/>
<circle cx="55.3" cy="89.9" r="2.5" fill="#3c24c0" filter="url(#mb)"/>
<circle cx="65.1" cy="90.9" r="3.2" fill="#5030c8" filter="url(#mb)"/>
<circle cx="71.9" cy="91.9" r="2.6" fill="#4428c4" filter="url(#mb)"/>
<circle cx="78.8" cy="92.8" r="2.6" fill="#3418b8" filter="url(#mb)"/>
<circle cx="84.7" cy="90.9" r="2.8" fill="#5a48d0" filter="url(#mb)"/>
<circle cx="90.5" cy="94.8" r="2.8" fill="#3418b8" filter="url(#mb)"/>
<circle cx="95.4" cy="91.9" r="3.1" fill="#4428c4" filter="url(#mb)"/>
<circle cx="102.2" cy="99.7" r="4.5" fill="#3418b8" filter="url(#mb)"/>
<circle cx="108.1" cy="92.8" r="2.6" fill="#5a48d0" filter="url(#mb)"/>
<circle cx="115.0" cy="102.6" r="2.7" fill="#3c24c0" filter="url(#mb)"/>
<circle cx="117.9" cy="94.8" r="3.0" fill="#3c24c0" filter="url(#mb)"/>
<circle cx="31.9" cy="105.6" r="2.6" fill="#5a48d0" filter="url(#mb)"/>
<circle cx="39.7" cy="104.6" r="2.5" fill="#3c24c0" filter="url(#mb)"/>
<circle cx="55.3" cy="113.4" r="4.0" fill="#3a20b8" filter="url(#mb)"/>
<circle cx="64.1" cy="106.5" r="2.8" fill="#3418b8" filter="url(#mb)"/>
<circle cx="75.9" cy="100.7" r="3.2" fill="#5030c8" filter="url(#mb)"/>
<circle cx="81.7" cy="98.7" r="3.0" fill="#5030c8" filter="url(#mb)"/>
<circle cx="86.6" cy="101.6" r="2.8" fill="#5a48d0" filter="url(#mb)"/>
<circle cx="92.5" cy="104.6" r="2.8" fill="#4428c4" filter="url(#mb)"/>
<circle cx="97.4" cy="105.6" r="3.1" fill="#3c24c0" filter="url(#mb)"/>
<circle cx="112.0" cy="105.6" r="2.5" fill="#5030c8" filter="url(#mb)"/>
<circle cx="115.9" cy="107.5" r="2.6" fill="#3418b8" filter="url(#mb)"/>
<circle cx="29.9" cy="115.3" r="2.8" fill="#3418b8" filter="url(#mb)"/>
<circle cx="37.7" cy="115.3" r="3.1" fill="#5030c8" filter="url(#mb)"/>
<circle cx="45.6" cy="113.4" r="2.8" fill="#5030c8" filter="url(#mb)"/>
<circle cx="50.4" cy="117.3" r="2.9" fill="#5a48d0" filter="url(#mb)"/>
<circle cx="62.2" cy="120.2" r="2.9" fill="#5a48d0" filter="url(#mb)"/>
<circle cx="67.1" cy="121.2" r="2.6" fill="#3a20b8" filter="url(#mb)"/>
<circle cx="86.6" cy="116.3" r="3.0" fill="#3c24c0" filter="url(#mb)"/>
<circle cx="91.5" cy="113.4" r="3.1" fill="#5a48d0" filter="url(#mb)"/>
<circle cx="96.4" cy="120.2" r="3.0" fill="#4428c4" filter="url(#mb)"/>
<circle cx="114.0" cy="119.2" r="3.0" fill="#3a20b8" filter="url(#mb)"/>
<circle cx="117.9" cy="115.3" r="3.2" fill="#5a48d0" filter="url(#mb)"/>
<circle cx="28.9" cy="125.1" r="2.9" fill="#3418b8" filter="url(#mb)"/>
<circle cx="35.8" cy="131.0" r="4.0" fill="#3418b8" filter="url(#mb)"/>
<circle cx="45.6" cy="126.1" r="2.6" fill="#5a48d0" filter="url(#mb)"/>
<circle cx="53.4" cy="124.1" r="2.7" fill="#3c24c0" filter="url(#mb)"/>
<circle cx="60.2" cy="128.0" r="2.5" fill="#3418b8" filter="url(#mb)"/>
<circle cx="71.0" cy="127.1" r="3.2" fill="#3c24c0" filter="url(#mb)"/>
<circle cx="78.8" cy="131.0" r="2.7" fill="#3c24c0" filter="url(#mb)"/>
<circle cx="84.7" cy="127.1" r="2.8" fill="#4428c4" filter="url(#mb)"/>
<circle cx="90.5" cy="129.0" r="2.5" fill="#5030c8" filter="url(#mb)"/>
<circle cx="97.4" cy="131.9" r="3.0" fill="#3c24c0" filter="url(#mb)"/>
<circle cx="115.9" cy="129.0" r="2.5" fill="#5a48d0" filter="url(#mb)"/>
<circle cx="29.9" cy="136.8" r="3.0" fill="#5030c8" filter="url(#mb)"/>
<circle cx="37.7" cy="140.7" r="3.0" fill="#3a20b8" filter="url(#mb)"/>
<circle cx="46.5" cy="136.8" r="2.9" fill="#3a20b8" filter="url(#mb)"/>
<circle cx="51.4" cy="133.9" r="2.8" fill="#3c24c0" filter="url(#mb)"/>
<circle cx="57.3" cy="137.8" r="2.7" fill="#3c24c0" filter="url(#mb)"/>
<circle cx="64.1" cy="134.9" r="2.5" fill="#5a48d0" filter="url(#mb)"/>
<circle cx="72.9" cy="134.9" r="3.6" fill="#3c24c0" filter="url(#mb)"/>
<circle cx="79.8" cy="138.8" r="3.2" fill="#5030c8" filter="url(#mb)"/>
<circle cx="84.7" cy="138.8" r="2.7" fill="#3a20b8" filter="url(#mb)"/>
<circle cx="92.5" cy="142.7" r="2.6" fill="#3c24c0" filter="url(#mb)"/>
<circle cx="100.3" cy="136.8" r="3.2" fill="#3a20b8" filter="url(#mb)"/>
<circle cx="115.0" cy="134.9" r="2.7" fill="#4428c4" filter="url(#mb)"/>
<circle cx="30.9" cy="146.6" r="3.1" fill="#5030c8" filter="url(#mb)"/>
<circle cx="39.7" cy="145.6" r="2.7" fill="#5a48d0" filter="url(#mb)"/>
<circle cx="47.5" cy="144.7" r="2.7" fill="#5a48d0" filter="url(#mb)"/>
<circle cx="59.2" cy="144.7" r="3.0" fill="#3c24c0" filter="url(#mb)"/>
<circle cx="67.1" cy="146.6" r="2.9" fill="#5a48d0" filter="url(#mb)"/>
<circle cx="74.9" cy="148.6" r="2.7" fill="#3418b8" filter="url(#mb)"/>
<circle cx="84.7" cy="144.7" r="3.0" fill="#4428c4" filter="url(#mb)"/>
<circle cx="90.5" cy="142.7" r="3.2" fill="#5030c8" filter="url(#mb)"/>
<circle cx="115.9" cy="146.6" r="4.0" fill="#3a20b8" filter="url(#mb)"/>
<circle cx="31.9" cy="154.4" r="2.9" fill="#5a48d0" filter="url(#mb)"/>
<circle cx="41.6" cy="153.4" r="2.7" fill="#5030c8" filter="url(#mb)"/>
<circle cx="51.4" cy="154.4" r="3.2" fill="#3a20b8" filter="url(#mb)"/>
<circle cx="60.2" cy="152.5" r="2.5" fill="#5a48d0" filter="url(#mb)"/>
<circle cx="70.0" cy="154.4" r="2.9" fill="#4428c4" filter="url(#mb)"/>
<circle cx="76.8" cy="153.4" r="2.5" fill="#3418b8" filter="url(#mb)"/>
<circle cx="108.1" cy="97.7" r="2.7" fill="#3a20b8" filter="url(#mb)"/>
<circle cx="119.8" cy="109.5" r="3.0" fill="#3a20b8" filter="url(#mb)"/>
<circle cx="33.8" cy="121.2" r="2.9" fill="#3a20b8" filter="url(#mb)"/>
<circle cx="65.1" cy="97.7" r="3.0" fill="#3c24c0" filter="url(#mb)"/>
<circle cx="90.5" cy="109.5" r="2.9" fill="#3418b8" filter="url(#mb)"/>
<circle cx="96.4" cy="97.7" r="2.5" fill="#3a20b8" filter="url(#mb)"/>
<circle cx="80.7" cy="113.4" r="2.6" fill="#5030c8" filter="url(#mb)"/>
<circle cx="88.6" cy="123.1" r="2.7" fill="#5a48d0" filter="url(#mb)"/>
<circle cx="61.2" cy="111.4" r="2.7" fill="#3a20b8" filter="url(#mb)"/>
<circle cx="74.9" cy="125.1" r="2.6" fill="#3a20b8" filter="url(#mb)"/>
<circle cx="49.5" cy="131.0" r="3.1" fill="#3a20b8" filter="url(#mb)"/>
<circle cx="41.6" cy="121.2" r="2.7" fill="#5030c8" filter="url(#mb)"/>
<circle cx="29.9" cy="144.7" r="2.5" fill="#3c24c0" filter="url(#mb)"/>
<circle cx="55.3" cy="148.6" r="3.2" fill="#3418b8" filter="url(#mb)"/>
<circle cx="80.7" cy="146.6" r="3.0" fill="#3a20b8" filter="url(#mb)"/>
<circle cx="96.4" cy="148.6" r="2.8" fill="#3418b8" filter="url(#mb)"/>
<circle cx="108.1" cy="134.9" r="3.1" fill="#4428c4" filter="url(#mb)"/>
<circle cx="119.8" cy="125.1" r="2.7" fill="#3418b8" filter="url(#mb)"/>
<circle cx="65.1" cy="138.8" r="2.8" fill="#3418b8" filter="url(#mb)"/>
<circle cx="74.9" cy="113.4" r="7.0" fill="#ffffff" filter="url(#mb)"/>
<circle cx="107.1" cy="111.4" r="6.3" fill="#ffffff" filter="url(#mb)"/>
</g>
<clipPath id="c4"><rect x="134" y="88" width="94" height="70"/></clipPath>
<g clip-path="url(#c4)">
<rect x="134" y="88" width="94" height="70" fill="#fdfcfc"/>
<circle cx="140.8" cy="89.9" r="2.5" fill="#f2e2de" stroke="#d2aca4" stroke-width="1.2" filter="url(#mb)"/>
<circle cx="147.6" cy="90.9" r="2.6" fill="#f0dcd6" stroke="#d4b0a6" stroke-width="1.2" filter="url(#mb)"/>
<circle cx="175.0" cy="89.9" r="2.3" fill="#f2e2de" stroke="#dab8ae" stroke-width="1.2" filter="url(#mb)"/>
<circle cx="180.9" cy="91.9" r="2.9" fill="#f0dcd6" stroke="#d2aca4" stroke-width="1.2" filter="url(#mb)"/>
<circle cx="177.0" cy="94.8" r="2.7" fill="#ead2cc" stroke="#c89e98" stroke-width="1.2" filter="url(#mb)"/>
<circle cx="205.3" cy="90.9" r="2.8" fill="#ead2cc" stroke="#d2aca4" stroke-width="1.2" filter="url(#mb)"/>
<circle cx="216.1" cy="93.8" r="2.5" fill="#f2e2de" stroke="#d2aca4" stroke-width="1.2" filter="url(#mb)"/>
<circle cx="164.3" cy="98.7" r="2.9" fill="#f0dcd6" stroke="#c89e98" stroke-width="1.2" filter="url(#mb)"/>
<circle cx="151.6" cy="99.7" r="2.4" fill="#f2e2de" stroke="#c89e98" stroke-width="1.2" filter="url(#mb)"/>
<circle cx="150.6" cy="103.6" r="2.9" fill="#f0dcd6" stroke="#c89e98" stroke-width="1.2" filter="url(#mb)"/>
<circle cx="155.5" cy="104.6" r="2.9" fill="#f2e2de" stroke="#c89e98" stroke-width="1.2" filter="url(#mb)"/>
<circle cx="174.0" cy="95.8" r="2.6" fill="#f0dcd6" stroke="#d4b0a6" stroke-width="1.2" filter="url(#mb)"/>
<circle cx="180.9" cy="97.7" r="2.5" fill="#f0dcd6" stroke="#c89e98" stroke-width="1.2" filter="url(#mb)"/>
<circle cx="186.7" cy="101.6" r="3.0" fill="#ead2cc" stroke="#c09498" stroke-width="1.2" filter="url(#mb)"/>
<circle cx="189.7" cy="105.6" r="2.3" fill="#f2e2de" stroke="#c89e98" stroke-width="1.2" filter="url(#mb)"/>
<circle cx="166.2" cy="105.6" r="2.8" fill="#f2e2de" stroke="#c89e98" stroke-width="1.2" filter="url(#mb)"/>
<circle cx="168.2" cy="115.3" r="2.4" fill="#f2e2de" stroke="#dab8ae" stroke-width="1.2" filter="url(#mb)"/>
<circle cx="172.1" cy="118.3" r="2.5" fill="#f0dcd6" stroke="#dab8ae" stroke-width="1.2" filter="url(#mb)"/>
<circle cx="194.6" cy="111.4" r="2.5" fill="#f0dcd6" stroke="#c89e98" stroke-width="1.2" filter="url(#mb)"/>
<circle cx="203.4" cy="115.3" r="2.4" fill="#f2e2de" stroke="#dab8ae" stroke-width="1.2" filter="url(#mb)"/>
<circle cx="199.4" cy="118.3" r="3.0" fill="#f2e2de" stroke="#c09498" stroke-width="1.2" filter="url(#mb)"/>
<circle cx="207.3" cy="112.4" r="2.8" fill="#ead2cc" stroke="#b89098" stroke-width="1.2" filter="url(#mb)"/>
<circle cx="223.9" cy="111.4" r="2.4" fill="#f0dcd6" stroke="#b89098" stroke-width="1.2" filter="url(#mb)"/>
<circle cx="135.9" cy="117.3" r="2.3" fill="#f2e2de" stroke="#d4b0a6" stroke-width="1.2" filter="url(#mb)"/>
<circle cx="140.8" cy="122.2" r="2.7" fill="#f0dcd6" stroke="#c89e98" stroke-width="1.2" filter="url(#mb)"/>
<circle cx="148.6" cy="118.3" r="2.5" fill="#f2e2de" stroke="#b89098" stroke-width="1.2" filter="url(#mb)"/>
<circle cx="150.6" cy="125.1" r="2.5" fill="#f0dcd6" stroke="#c09498" stroke-width="1.2" filter="url(#mb)"/>
<circle cx="146.7" cy="127.1" r="2.9" fill="#f0dcd6" stroke="#d2aca4" stroke-width="1.2" filter="url(#mb)"/>
<circle cx="159.4" cy="128.0" r="2.8" fill="#f2e2de" stroke="#c89e98" stroke-width="1.2" filter="url(#mb)"/>
<circle cx="165.2" cy="124.1" r="2.7" fill="#f0dcd6" stroke="#d4b0a6" stroke-width="1.2" filter="url(#mb)"/>
<circle cx="156.4" cy="131.9" r="2.5" fill="#ead2cc" stroke="#d4b0a6" stroke-width="1.2" filter="url(#mb)"/>
<circle cx="161.3" cy="135.9" r="2.6" fill="#ead2cc" stroke="#d2aca4" stroke-width="1.2" filter="url(#mb)"/>
<circle cx="164.3" cy="139.8" r="2.8" fill="#f2e2de" stroke="#c89e98" stroke-width="1.2" filter="url(#mb)"/>
<circle cx="176.0" cy="134.9" r="2.8" fill="#f0dcd6" stroke="#c89e98" stroke-width="1.2" filter="url(#mb)"/>
<circle cx="183.8" cy="133.9" r="2.5" fill="#f0dcd6" stroke="#c89e98" stroke-width="1.2" filter="url(#mb)"/>
<circle cx="190.7" cy="131.0" r="2.8" fill="#f2e2de" stroke="#dab8ae" stroke-width="1.2" filter="url(#mb)"/>
<circle cx="194.6" cy="129.0" r="2.8" fill="#ead2cc" stroke="#d2aca4" stroke-width="1.2" filter="url(#mb)"/>
<circle cx="192.6" cy="135.9" r="2.7" fill="#ead2cc" stroke="#dab8ae" stroke-width="1.2" filter="url(#mb)"/>
<circle cx="196.5" cy="142.7" r="2.4" fill="#f2e2de" stroke="#dab8ae" stroke-width="1.2" filter="url(#mb)"/>
<circle cx="188.7" cy="142.7" r="3.0" fill="#f2e2de" stroke="#c89e98" stroke-width="1.2" filter="url(#mb)"/>
<circle cx="183.8" cy="144.7" r="2.3" fill="#ead2cc" stroke="#d2aca4" stroke-width="1.2" filter="url(#mb)"/>
<circle cx="174.0" cy="144.7" r="2.4" fill="#ead2cc" stroke="#c89e98" stroke-width="1.2" filter="url(#mb)"/>
<circle cx="175.0" cy="150.5" r="2.7" fill="#f0dcd6" stroke="#dab8ae" stroke-width="1.2" filter="url(#mb)"/>
<circle cx="180.9" cy="153.4" r="2.6" fill="#f0dcd6" stroke="#d4b0a6" stroke-width="1.2" filter="url(#mb)"/>
<circle cx="188.7" cy="152.5" r="2.3" fill="#f2e2de" stroke="#d2aca4" stroke-width="1.2" filter="url(#mb)"/>
<circle cx="197.5" cy="148.6" r="2.4" fill="#f0dcd6" stroke="#b89098" stroke-width="1.2" filter="url(#mb)"/>
<circle cx="206.3" cy="148.6" r="2.7" fill="#ead2cc" stroke="#c09498" stroke-width="1.2" filter="url(#mb)"/>
<circle cx="212.2" cy="145.6" r="2.7" fill="#f0dcd6" stroke="#c89e98" stroke-width="1.2" filter="url(#mb)"/>
<circle cx="214.1" cy="153.4" r="2.4" fill="#ead2cc" stroke="#c09498" stroke-width="1.2" filter="url(#mb)"/>
<circle cx="223.9" cy="144.7" r="2.8" fill="#f2e2de" stroke="#dab8ae" stroke-width="1.2" filter="url(#mb)"/>
<circle cx="206.3" cy="135.9" r="3.0" fill="#f0dcd6" stroke="#dab8ae" stroke-width="1.2" filter="url(#mb)"/>
<circle cx="200.4" cy="134.9" r="2.5" fill="#ead2cc" stroke="#dab8ae" stroke-width="1.2" filter="url(#mb)"/>
<circle cx="169.1" cy="148.6" r="2.3" fill="#ead2cc" stroke="#dab8ae" stroke-width="1.2" filter="url(#mb)"/>
<circle cx="178.9" cy="140.7" r="2.5" fill="#f0dcd6" stroke="#dab8ae" stroke-width="1.2" filter="url(#mb)"/>
<circle cx="185.8" cy="138.8" r="2.6" fill="#f0dcd6" stroke="#d2aca4" stroke-width="1.2" filter="url(#mb)"/>
<circle cx="143.7" cy="113.4" r="2.5" fill="#f2e2de" stroke="#d4b0a6" stroke-width="1.2" filter="url(#mb)"/>
<circle cx="137.9" cy="125.1" r="2.4" fill="#ead2cc" stroke="#d4b0a6" stroke-width="1.2" filter="url(#mb)"/>
<circle cx="153.5" cy="109.5" r="2.9" fill="#ead2cc" stroke="#d4b0a6" stroke-width="1.2" filter="url(#mb)"/>
<circle cx="157.4" cy="101.6" r="2.3" fill="#f2e2de" stroke="#c89e98" stroke-width="1.2" filter="url(#mb)"/>
<circle cx="143.7" cy="123.1" r="2.4" fill="#ead2cc" stroke="#c09498" stroke-width="1.2" filter="url(#mb)"/>
<circle cx="153.5" cy="131.0" r="3.0" fill="#f2e2de" stroke="#b89098" stroke-width="1.2" filter="url(#mb)"/>
<circle cx="159.4" cy="134.9" r="2.9" fill="#f2e2de" stroke="#b89098" stroke-width="1.2" filter="url(#mb)"/>
<circle cx="167.2" cy="142.7" r="2.3" fill="#f0dcd6" stroke="#dab8ae" stroke-width="1.2" filter="url(#mb)"/>
<circle cx="171.1" cy="152.5" r="2.6" fill="#f0dcd6" stroke="#c09498" stroke-width="1.2" filter="url(#mb)"/>
<circle cx="190.7" cy="103.6" r="2.5" fill="#ead2cc" stroke="#b89098" stroke-width="1.2" filter="url(#mb)"/>
<circle cx="169.1" cy="93.8" r="2.9" fill="#ead2cc" stroke="#b89098" stroke-width="1.2" filter="url(#mb)"/>
<circle cx="180.5" cy="113.4" r="5.5" fill="#5230c4" filter="url(#mb)"/>
<circle cx="171.7" cy="109.1" r="2.3" fill="#3a20b8" filter="url(#mb)"/>
<circle cx="160.3" cy="110.4" r="3.5" fill="#8a58c0" filter="url(#mb)"/>
<circle cx="183.2" cy="122.2" r="3.1" fill="#4a2cc8" filter="url(#mb)"/>
<circle cx="189.1" cy="119.2" r="2.9" fill="#5a3cc8" filter="url(#mb)"/>
<circle cx="187.1" cy="127.6" r="3.1" fill="#4a2cc8" filter="url(#mb)"/>
<circle cx="170.3" cy="130.4" r="2.9" fill="#4020c0" filter="url(#mb)"/>
<circle cx="180.1" cy="143.1" r="2.7" fill="#4020c0" filter="url(#mb)"/>
<circle cx="213.7" cy="117.3" r="4.3" fill="#5a40d0" filter="url(#mb)"/>
<circle cx="210.2" cy="118.8" r="2.7" fill="#7a70d0" filter="url(#mb)"/>
<circle cx="212.2" cy="88.9" r="1.6" fill="#3020a0" filter="url(#mb)"/>
<circle cx="142.8" cy="89.9" r="2.0" fill="#8a70b0" filter="url(#mb)"/>
</g>
<text x="0.8" y="10.7" font-size="12.9" font-weight="bold" text-anchor="start" fill="#000" >A</text>
<text x="71.5" y="8.3" font-size="9" font-weight="bold" text-anchor="middle" fill="#000" >Patient 8</text>
<text x="182.5" y="10.0" font-size="9" font-weight="bold" text-anchor="middle" fill="#000" >Patient 11</text>
<text x="228.8" y="20.0" font-size="9" font-weight="bold" text-anchor="start" fill="#000" >before</text>
<text x="228.8" y="96.9" font-size="9" font-weight="bold" text-anchor="start" fill="#000" >28 days</text>
<rect x="1.5" y="178" width="307" height="188" fill="none" stroke="#808080" stroke-width="1.5"/>
<rect x="250" y="139.3" width="58.4" height="38.2" fill="#fff" stroke="#777" stroke-width="1"/>
<line x1="251.5" y1="146.6" x2="262.5" y2="146.6" stroke="#33dd33" stroke-width="1.1"/>
<rect x="255.7" y="145.29999999999998" width="2.6" height="2.6" fill="#33dd33" transform="rotate(45 257 146.6)"/>
<text x="266.6" y="148.75" font-size="6.1" font-weight="bold" text-anchor="start" fill="#000" >Platelets</text>
<line x1="251.5" y1="154.7" x2="262.5" y2="154.7" stroke="#dd1111" stroke-width="1.1"/>
<rect x="255.7" y="153.39999999999998" width="2.6" height="2.6" fill="#dd1111" transform="rotate(45 257 154.7)"/>
<text x="266.6" y="156.85" font-size="6.1" font-weight="bold" text-anchor="start" fill="#000" >Hemoglobin</text>
<line x1="251.5" y1="163.9" x2="262.5" y2="163.9" stroke="#1a1aaa" stroke-width="1.1"/>
<rect x="255.7" y="162.6" width="2.6" height="2.6" fill="#1a1aaa" transform="rotate(45 257 163.9)"/>
<text x="266.6" y="166.05" font-size="6.1" font-weight="bold" text-anchor="start" fill="#000" >WBC</text>
<line x1="251.5" y1="172.7" x2="262.5" y2="172.7" stroke="#ee22ee" stroke-width="1.1"/>
<rect x="255.7" y="171.39999999999998" width="2.6" height="2.6" fill="#ee22ee" transform="rotate(45 257 172.7)"/>
<text x="266.6" y="174.85" font-size="6.1" font-weight="bold" text-anchor="start" fill="#000" >Neutrophils</text>
<line x1="30.4" y1="188.0" x2="30.4" y2="333.9" stroke="#bcbcbc" stroke-width="1"/>
<line x1="134.8" y1="188.0" x2="134.8" y2="333.9" stroke="#bcbcbc" stroke-width="1"/>
<line x1="30.4" y1="254.6" x2="134.8" y2="254.6" stroke="#c8c8c8" stroke-width="1.2"/>
<line x1="30.4" y1="331.4" x2="134.8" y2="331.4" stroke="#c8c8c8" stroke-width="1.2"/>
<text x="81.5" y="190.0" font-size="7.8" font-weight="bold" text-anchor="middle" fill="#000" >Patient 8</text>
<text x="28.099999999999998" y="256.4" font-size="5.6" font-weight="bold" text-anchor="end" fill="#000" >0</text>
<text x="28.099999999999998" y="249.88" font-size="5.6" font-weight="bold" text-anchor="end" fill="#000" >10</text>
<text x="28.099999999999998" y="243.36" font-size="5.6" font-weight="bold" text-anchor="end" fill="#000" >20</text>
<text x="28.099999999999998" y="236.84" font-size="5.6" font-weight="bold" text-anchor="end" fill="#000" >30</text>
<text x="28.099999999999998" y="230.32" font-size="5.6" font-weight="bold" text-anchor="end" fill="#000" >40</text>
<text x="28.099999999999998" y="223.8" font-size="5.6" font-weight="bold" text-anchor="end" fill="#000" >50</text>
<text x="28.099999999999998" y="217.28" font-size="5.6" font-weight="bold" text-anchor="end" fill="#000" >60</text>
<text x="28.099999999999998" y="210.76" font-size="5.6" font-weight="bold" text-anchor="end" fill="#000" >70</text>
<text x="28.099999999999998" y="204.24" font-size="5.6" font-weight="bold" text-anchor="end" fill="#000" >80</text>
<text x="28.099999999999998" y="197.72" font-size="5.6" font-weight="bold" text-anchor="end" fill="#000" >90</text>
<text x="28.099999999999998" y="191.2" font-size="5.6" font-weight="bold" text-anchor="end" fill="#000" >100</text>
<text x="28.099999999999998" y="333.6" font-size="5.6" font-weight="bold" text-anchor="end" fill="#000" >0</text>
<text x="28.099999999999998" y="323.65000000000003" font-size="5.6" font-weight="bold" text-anchor="end" fill="#000" >1</text>
<text x="28.099999999999998" y="313.70000000000005" font-size="5.6" font-weight="bold" text-anchor="end" fill="#000" >2</text>
<text x="28.099999999999998" y="303.75" font-size="5.6" font-weight="bold" text-anchor="end" fill="#000" >3</text>
<text x="28.099999999999998" y="293.8" font-size="5.6" font-weight="bold" text-anchor="end" fill="#000" >4</text>
<text x="28.099999999999998" y="283.85" font-size="5.6" font-weight="bold" text-anchor="end" fill="#000" >5</text>
<text x="28.099999999999998" y="273.90000000000003" font-size="5.6" font-weight="bold" text-anchor="end" fill="#000" >6</text>
<text x="28.099999999999998" y="263.95000000000005" font-size="5.6" font-weight="bold" text-anchor="end" fill="#000" >7</text>
<text x="139.5" y="256.0" font-size="5.6" font-weight="bold" text-anchor="start" fill="#000" >0</text>
<text x="139.5" y="246.672" font-size="5.6" font-weight="bold" text-anchor="start" fill="#000" >20</text>
<text x="139.5" y="237.344" font-size="5.6" font-weight="bold" text-anchor="start" fill="#000" >40</text>
<text x="139.5" y="228.016" font-size="5.6" font-weight="bold" text-anchor="start" fill="#000" >60</text>
<text x="139.5" y="218.688" font-size="5.6" font-weight="bold" text-anchor="start" fill="#000" >80</text>
<text x="139.5" y="209.36" font-size="5.6" font-weight="bold" text-anchor="start" fill="#000" >100</text>
<text x="139.5" y="200.032" font-size="5.6" font-weight="bold" text-anchor="start" fill="#000" >120</text>
<text x="139.5" y="190.704" font-size="5.6" font-weight="bold" text-anchor="start" fill="#000" >140</text>
<text x="139.5" y="333.5" font-size="5.6" font-weight="bold" text-anchor="start" fill="#000" >0</text>
<text x="139.5" y="325.8" font-size="5.6" font-weight="bold" text-anchor="start" fill="#000" >0.5</text>
<text x="139.5" y="318.1" font-size="5.6" font-weight="bold" text-anchor="start" fill="#000" >1</text>
<text x="139.5" y="310.4" font-size="5.6" font-weight="bold" text-anchor="start" fill="#000" >1.5</text>
<text x="139.5" y="302.7" font-size="5.6" font-weight="bold" text-anchor="start" fill="#000" >2</text>
<text x="139.5" y="295.0" font-size="5.6" font-weight="bold" text-anchor="start" fill="#000" >2.5</text>
<text x="139.5" y="287.3" font-size="5.6" font-weight="bold" text-anchor="start" fill="#000" >3</text>
<text x="139.5" y="279.6" font-size="5.6" font-weight="bold" text-anchor="start" fill="#000" >3.5</text>
<text x="139.5" y="271.9" font-size="5.6" font-weight="bold" text-anchor="start" fill="#000" >4</text>
<text x="139.5" y="264.2" font-size="5.6" font-weight="bold" text-anchor="start" fill="#000" >4.5</text>
<text transform="translate(14.8,220.0) rotate(-90)" x="0" y="2.13" font-size="6.1" font-weight="bold" text-anchor="middle" fill="#000">Platelets (x 10^9/L)</text>
<text transform="translate(14.0,295.0) rotate(-90)" x="0" y="2.20" font-size="6.3" font-weight="bold" text-anchor="middle" fill="#000">WBC (x 10^9/L)</text>
<text transform="translate(153.1,218.9) rotate(90) scale(1,0.88)" x="0" y="2.27" font-size="6.5" text-anchor="middle" fill="#000" style="stroke-width:0.24px">Hemoglobin (g/L)</text>
<text transform="translate(152.0,297.4) rotate(90) scale(1,0.9)" x="0" y="2.24" font-size="6.4" text-anchor="middle" fill="#000" style="stroke-width:0.24px">Neutrophils (x 10^9/L)</text>
<polyline points="38.0,228.5 53.0,209.5 67.9,204.7 82.8,215.3 97.8,203.0 112.8,194.3 127.7,204.7" fill="none" stroke="#3ee03e" stroke-width="1.4" stroke-linejoin="round"/>
<circle cx="38.0" cy="228.5" r="1.6" fill="#3ee03e"/>
<circle cx="53.0" cy="209.5" r="1.6" fill="#3ee03e"/>
<circle cx="67.9" cy="204.7" r="1.6" fill="#3ee03e"/>
<circle cx="82.8" cy="215.3" r="1.6" fill="#3ee03e"/>
<circle cx="97.8" cy="203.0" r="1.6" fill="#3ee03e"/>
<circle cx="112.8" cy="194.3" r="1.6" fill="#3ee03e"/>
<circle cx="127.7" cy="204.7" r="1.6" fill="#3ee03e"/>
<polyline points="38.0,208.6 53.0,212.8 67.9,210.0 82.8,201.5 97.8,204.0 112.8,200.3 127.7,196.8" fill="none" stroke="#d01818" stroke-width="1.4" stroke-linejoin="round"/>
<circle cx="38.0" cy="208.6" r="1.6" fill="#d01818"/>
<circle cx="53.0" cy="212.8" r="1.6" fill="#d01818"/>
<circle cx="67.9" cy="210.0" r="1.6" fill="#d01818"/>
<circle cx="82.8" cy="201.5" r="1.6" fill="#d01818"/>
<circle cx="97.8" cy="204.0" r="1.6" fill="#d01818"/>
<circle cx="112.8" cy="200.3" r="1.6" fill="#d01818"/>
<circle cx="127.7" cy="196.8" r="1.6" fill="#d01818"/>
<polyline points="38.0,274.2 53.0,283.2 67.9,289.2 82.8,278.1 97.8,272.1 112.8,265.2 127.7,286.4" fill="none" stroke="#2222b0" stroke-width="1.15" stroke-linejoin="round"/>
<circle cx="38.0" cy="274.2" r="1.4" fill="#2222b0"/>
<circle cx="53.0" cy="283.2" r="1.4" fill="#2222b0"/>
<circle cx="67.9" cy="289.2" r="1.4" fill="#2222b0"/>
<circle cx="82.8" cy="278.1" r="1.4" fill="#2222b0"/>
<circle cx="97.8" cy="272.1" r="1.4" fill="#2222b0"/>
<circle cx="112.8" cy="265.2" r="1.4" fill="#2222b0"/>
<circle cx="127.7" cy="286.4" r="1.4" fill="#2222b0"/>
<polyline points="38.0,281.5 53.0,290.8 67.9,290.8 82.8,288.0 97.8,278.5 112.8,270.7 127.7,295.8" fill="none" stroke="#e828e8" stroke-width="1.15" stroke-linejoin="round"/>
<circle cx="38.0" cy="281.5" r="1.4" fill="#e828e8"/>
<circle cx="53.0" cy="290.8" r="1.4" fill="#e828e8"/>
<circle cx="67.9" cy="290.8" r="1.4" fill="#e828e8"/>
<circle cx="82.8" cy="288.0" r="1.4" fill="#e828e8"/>
<circle cx="97.8" cy="278.5" r="1.4" fill="#e828e8"/>
<circle cx="112.8" cy="270.7" r="1.4" fill="#e828e8"/>
<circle cx="127.7" cy="295.8" r="1.4" fill="#e828e8"/>
<line x1="182.7" y1="188.0" x2="182.7" y2="333.9" stroke="#bcbcbc" stroke-width="1"/>
<line x1="286.4" y1="188.0" x2="286.4" y2="333.9" stroke="#bcbcbc" stroke-width="1"/>
<line x1="182.7" y1="254.6" x2="286.4" y2="254.6" stroke="#c8c8c8" stroke-width="1.2"/>
<line x1="182.7" y1="331.4" x2="286.4" y2="331.4" stroke="#c8c8c8" stroke-width="1.2"/>
<text x="235.0" y="190.6" font-size="7.8" font-weight="bold" text-anchor="middle" fill="#000" >Patient 11</text>
<text x="181.79999999999998" y="256.2" font-size="5.6" font-weight="bold" text-anchor="end" fill="#000" >0</text>
<text x="181.79999999999998" y="245.285" font-size="5.6" font-weight="bold" text-anchor="end" fill="#000" >50</text>
<text x="181.79999999999998" y="234.37" font-size="5.6" font-weight="bold" text-anchor="end" fill="#000" >100</text>
<text x="181.79999999999998" y="223.45499999999998" font-size="5.6" font-weight="bold" text-anchor="end" fill="#000" >150</text>
<text x="181.79999999999998" y="212.54" font-size="5.6" font-weight="bold" text-anchor="end" fill="#000" >200</text>
<text x="181.79999999999998" y="201.625" font-size="5.6" font-weight="bold" text-anchor="end" fill="#000" >250</text>
<text x="181.79999999999998" y="190.70999999999998" font-size="5.6" font-weight="bold" text-anchor="end" fill="#000" >300</text>
<text x="181.79999999999998" y="332.9" font-size="5.6" font-weight="bold" text-anchor="end" fill="#000" >0</text>
<text x="181.79999999999998" y="323.29999999999995" font-size="5.6" font-weight="bold" text-anchor="end" fill="#000" >1</text>
<text x="181.79999999999998" y="313.7" font-size="5.6" font-weight="bold" text-anchor="end" fill="#000" >2</text>
<text x="181.79999999999998" y="304.09999999999997" font-size="5.6" font-weight="bold" text-anchor="end" fill="#000" >3</text>
<text x="181.79999999999998" y="294.5" font-size="5.6" font-weight="bold" text-anchor="end" fill="#000" >4</text>
<text x="181.79999999999998" y="284.9" font-size="5.6" font-weight="bold" text-anchor="end" fill="#000" >5</text>
<text x="181.79999999999998" y="275.29999999999995" font-size="5.6" font-weight="bold" text-anchor="end" fill="#000" >6</text>
<text x="181.79999999999998" y="265.7" font-size="5.6" font-weight="bold" text-anchor="end" fill="#000" >7</text>
<text x="290.4" y="256.3" font-size="5.6" font-weight="bold" text-anchor="start" fill="#000" >0</text>
<text x="290.4" y="246.928" font-size="5.6" font-weight="bold" text-anchor="start" fill="#000" >20</text>
<text x="290.4" y="237.556" font-size="5.6" font-weight="bold" text-anchor="start" fill="#000" >40</text>
<text x="290.4" y="228.18400000000003" font-size="5.6" font-weight="bold" text-anchor="start" fill="#000" >60</text>
<text x="290.4" y="218.812" font-size="5.6" font-weight="bold" text-anchor="start" fill="#000" >80</text>
<text x="290.4" y="209.44" font-size="5.6" font-weight="bold" text-anchor="start" fill="#000" >100</text>
<text x="290.4" y="200.068" font-size="5.6" font-weight="bold" text-anchor="start" fill="#000" >120</text>
<text x="290.4" y="190.69600000000003" font-size="5.6" font-weight="bold" text-anchor="start" fill="#000" >140</text>
<text x="290.4" y="333.0" font-size="5.6" font-weight="bold" text-anchor="start" fill="#000" >0</text>
<text x="290.4" y="320.3" font-size="5.6" font-weight="bold" text-anchor="start" fill="#000" >1</text>
<text x="290.4" y="307.6" font-size="5.6" font-weight="bold" text-anchor="start" fill="#000" >2</text>
<text x="290.4" y="294.9" font-size="5.6" font-weight="bold" text-anchor="start" fill="#000" >3</text>
<text x="290.4" y="282.2" font-size="5.6" font-weight="bold" text-anchor="start" fill="#000" >4</text>
<text x="290.4" y="269.5" font-size="5.6" font-weight="bold" text-anchor="start" fill="#000" >5</text>
<text transform="translate(167.6,219.3) rotate(-90)" x="0" y="2.19" font-size="6.25" font-weight="bold" text-anchor="middle" fill="#000">Platelets (x 10^9/L)</text>
<text transform="translate(168.5,294.7) rotate(-90)" x="0" y="2.20" font-size="6.3" font-weight="bold" text-anchor="middle" fill="#000">WBC (x 10^9/L)</text>
<text transform="translate(304.3,220.2) rotate(90) scale(1,0.88)" x="0" y="2.27" font-size="6.5" text-anchor="middle" fill="#000" style="stroke-width:0.24px">Hemoglobin (g/L)</text>
<text transform="translate(300.6,290.4) rotate(90) scale(1,0.88)" x="0" y="2.31" font-size="6.6" text-anchor="middle" fill="#000" style="stroke-width:0.24px">Neutrophils (x 10<tspan font-size="4.6" dy="-1.5">9</tspan><tspan dy="1.5">/L)</tspan></text>
<polyline points="187.6,226.7 197.1,222.8 206.5,212.2 216.0,215.2 225.4,213.0 234.9,202.8 244.4,199.1 253.8,200.0 263.3,192.6 272.7,203.5 282.2,202.2" fill="none" stroke="#3ee03e" stroke-width="1.4" stroke-linejoin="round"/>
<circle cx="187.6" cy="226.7" r="1.6" fill="#3ee03e"/>
<circle cx="197.1" cy="222.8" r="1.6" fill="#3ee03e"/>
<circle cx="206.5" cy="212.2" r="1.6" fill="#3ee03e"/>
<circle cx="216.0" cy="215.2" r="1.6" fill="#3ee03e"/>
<circle cx="225.4" cy="213.0" r="1.6" fill="#3ee03e"/>
<circle cx="234.9" cy="202.8" r="1.6" fill="#3ee03e"/>
<circle cx="244.4" cy="199.1" r="1.6" fill="#3ee03e"/>
<circle cx="253.8" cy="200.0" r="1.6" fill="#3ee03e"/>
<circle cx="263.3" cy="192.6" r="1.6" fill="#3ee03e"/>
<circle cx="272.7" cy="203.5" r="1.6" fill="#3ee03e"/>
<circle cx="282.2" cy="202.2" r="1.6" fill="#3ee03e"/>
<polyline points="187.6,209.3 197.1,209.3 206.5,213.0 216.0,208.5 225.4,207.2 234.9,207.2 244.4,200.7 253.8,201.3 263.3,196.3 272.7,197.8 282.2,197.0" fill="none" stroke="#d01818" stroke-width="1.4" stroke-linejoin="round"/>
<circle cx="187.6" cy="209.3" r="1.6" fill="#d01818"/>
<circle cx="197.1" cy="209.3" r="1.6" fill="#d01818"/>
<circle cx="206.5" cy="213.0" r="1.6" fill="#d01818"/>
<circle cx="216.0" cy="208.5" r="1.6" fill="#d01818"/>
<circle cx="225.4" cy="207.2" r="1.6" fill="#d01818"/>
<circle cx="234.9" cy="207.2" r="1.6" fill="#d01818"/>
<circle cx="244.4" cy="200.7" r="1.6" fill="#d01818"/>
<circle cx="253.8" cy="201.3" r="1.6" fill="#d01818"/>
<circle cx="263.3" cy="196.3" r="1.6" fill="#d01818"/>
<circle cx="272.7" cy="197.8" r="1.6" fill="#d01818"/>
<circle cx="282.2" cy="197.0" r="1.6" fill="#d01818"/>
<polyline points="187.6,273.5 197.1,288.7 206.5,298.5 216.0,303.3 225.4,300.2 234.9,299.6 244.4,284.3 253.8,269.1 263.3,257.6 272.7,265.2 282.2,268.0" fill="none" stroke="#2222b0" stroke-width="1.15" stroke-linejoin="round"/>
<circle cx="187.6" cy="273.5" r="1.4" fill="#2222b0"/>
<circle cx="197.1" cy="288.7" r="1.4" fill="#2222b0"/>
<circle cx="206.5" cy="298.5" r="1.4" fill="#2222b0"/>
<circle cx="216.0" cy="303.3" r="1.4" fill="#2222b0"/>
<circle cx="225.4" cy="300.2" r="1.4" fill="#2222b0"/>
<circle cx="234.9" cy="299.6" r="1.4" fill="#2222b0"/>
<circle cx="244.4" cy="284.3" r="1.4" fill="#2222b0"/>
<circle cx="253.8" cy="269.1" r="1.4" fill="#2222b0"/>
<circle cx="263.3" cy="257.6" r="1.4" fill="#2222b0"/>
<circle cx="272.7" cy="265.2" r="1.4" fill="#2222b0"/>
<circle cx="282.2" cy="268.0" r="1.4" fill="#2222b0"/>
<polyline points="187.6,329.6 197.1,324.6 206.5,328.9 216.0,322.0 225.4,319.1 234.9,315.9 244.4,295.2 253.8,288.0 263.3,269.1 272.7,278.9 282.2,281.5" fill="none" stroke="#e828e8" stroke-width="1.15" stroke-linejoin="round"/>
<circle cx="187.6" cy="329.6" r="1.4" fill="#e828e8"/>
<circle cx="197.1" cy="324.6" r="1.4" fill="#e828e8"/>
<circle cx="206.5" cy="328.9" r="1.4" fill="#e828e8"/>
<circle cx="216.0" cy="322.0" r="1.4" fill="#e828e8"/>
<circle cx="225.4" cy="319.1" r="1.4" fill="#e828e8"/>
<circle cx="234.9" cy="315.9" r="1.4" fill="#e828e8"/>
<circle cx="244.4" cy="295.2" r="1.4" fill="#e828e8"/>
<circle cx="253.8" cy="288.0" r="1.4" fill="#e828e8"/>
<circle cx="263.3" cy="269.1" r="1.4" fill="#e828e8"/>
<circle cx="272.7" cy="278.9" r="1.4" fill="#e828e8"/>
<circle cx="282.2" cy="281.5" r="1.4" fill="#e828e8"/>
<text x="5.0" y="341.5" font-size="6.6" text-anchor="start" fill="#000" >Ribavirin:</text>
<text x="5.0" y="349.2" font-size="6.6" text-anchor="start" fill="#000" >(days)</text>
<text x="8.0" y="357.4" font-size="6.6" text-anchor="start" fill="#000" >Hydrea:</text>
<text x="8.0" y="364.4" font-size="6.6" text-anchor="start" fill="#000" >(g/week)</text>
<text x="38.7" y="342.0" font-size="6.2" font-weight="bold" text-anchor="middle" fill="#000" >1</text>
<text x="53.75" y="342.0" font-size="6.2" font-weight="bold" text-anchor="middle" fill="#000" >8</text>
<text x="68.80000000000001" y="342.0" font-size="6.2" font-weight="bold" text-anchor="middle" fill="#000" >15</text>
<text x="83.85000000000001" y="342.0" font-size="6.2" font-weight="bold" text-anchor="middle" fill="#000" >22</text>
<text x="98.9" y="342.0" font-size="6.2" font-weight="bold" text-anchor="middle" fill="#000" >30</text>
<text x="113.95" y="342.0" font-size="6.2" font-weight="bold" text-anchor="middle" fill="#000" >43</text>
<text x="129.0" y="342.0" font-size="6.2" font-weight="bold" text-anchor="middle" fill="#000" >56</text>
<text x="38.7" y="357.7" font-size="6.2" font-weight="bold" text-anchor="middle" fill="#000" >10.5</text>
<text x="53.75" y="357.7" font-size="6.2" font-weight="bold" text-anchor="middle" fill="#000" >3.5</text>
<text x="68.80000000000001" y="357.7" font-size="6.2" font-weight="bold" text-anchor="middle" fill="#000" >3.5</text>
<text x="83.85000000000001" y="357.7" font-size="6.2" font-weight="bold" text-anchor="middle" fill="#000" >3.5</text>
<text x="98.9" y="357.7" font-size="6.2" font-weight="bold" text-anchor="middle" fill="#000" >3.5</text>
<text x="113.95" y="357.7" font-size="6.2" font-weight="bold" text-anchor="middle" fill="#000" >3.5</text>
<text x="129.0" y="357.7" font-size="6.2" font-weight="bold" text-anchor="middle" fill="#000" >3.5</text>
<text x="188" y="342.3" font-size="5.9" font-weight="bold" text-anchor="middle" fill="#000" >1</text>
<text x="196.9" y="342.3" font-size="5.9" font-weight="bold" text-anchor="middle" fill="#000" >8</text>
<text x="207.1" y="342.3" font-size="5.9" font-weight="bold" text-anchor="middle" fill="#000" >15</text>
<text x="216.4" y="342.3" font-size="5.9" font-weight="bold" text-anchor="middle" fill="#000" >22</text>
<text x="225.5" y="342.3" font-size="5.9" font-weight="bold" text-anchor="middle" fill="#000" >26</text>
<text x="235" y="342.3" font-size="5.9" font-weight="bold" text-anchor="middle" fill="#000" >40</text>
<text x="243.9" y="342.3" font-size="5.9" font-weight="bold" text-anchor="middle" fill="#000" >54</text>
<text x="253" y="342.3" font-size="5.9" font-weight="bold" text-anchor="middle" fill="#000" >68</text>
<text x="262.5" y="342.3" font-size="5.9" font-weight="bold" text-anchor="middle" fill="#000" >82</text>
<text x="272" y="342.3" font-size="5.9" font-weight="bold" text-anchor="middle" fill="#000" >96</text>
<text x="281.5" y="342.3" font-size="5.9" font-weight="bold" text-anchor="middle" fill="#000" >110</text>
<text x="188" y="357.7" font-size="5.4" font-weight="bold" text-anchor="middle" fill="#000" >5</text>
<text x="196.9" y="357.7" font-size="5.4" font-weight="bold" text-anchor="middle" fill="#000" >5</text>
<text x="206.4" y="357.7" font-size="5.4" font-weight="bold" text-anchor="middle" fill="#000" >4.5</text>
<text x="215.5" y="357.7" font-size="5.4" font-weight="bold" text-anchor="middle" fill="#000" >4.5</text>
<text x="224.8" y="357.7" font-size="5.4" font-weight="bold" text-anchor="middle" fill="#000" >4</text>
<text x="233.5" y="357.7" font-size="5.4" font-weight="bold" text-anchor="middle" fill="#000" >3.5</text>
<text x="242.4" y="357.7" font-size="5.4" font-weight="bold" text-anchor="middle" fill="#000" >3.5</text>
<text x="251.9" y="357.7" font-size="5.4" font-weight="bold" text-anchor="middle" fill="#000" >3.5</text>
<text x="261.4" y="357.7" font-size="5.4" font-weight="bold" text-anchor="middle" fill="#000" >3.5</text>
<text x="271.4" y="357.7" font-size="5.4" font-weight="bold" text-anchor="middle" fill="#000" >3.5</text>
<text x="283.7" y="357.7" font-size="5.4" font-weight="bold" text-anchor="middle" fill="#000" >3.5</text>
<text x="301.9" y="10.0" font-size="13.2" font-weight="bold" text-anchor="start" fill="#000" >B</text>
<text x="416.2" y="11.4" font-size="9.3" font-weight="bold" text-anchor="middle" fill="#000" >Patient 6</text>
<line x1="328.3" y1="19" x2="328.3" y2="138.7" stroke="#000" stroke-width="0.9"/>
<line x1="328.3" y1="138.7" x2="514" y2="138.7" stroke="#000" stroke-width="0.9"/>
<line x1="325.7" y1="138.7" x2="328.3" y2="138.7" stroke="#000" stroke-width="0.9"/>
<text x="323.8" y="141.1" font-size="6.8" text-anchor="end" fill="#000" >0</text>
<line x1="325.7" y1="126.8" x2="328.3" y2="126.8" stroke="#000" stroke-width="0.9"/>
<text x="323.8" y="129.17" font-size="6.8" text-anchor="end" fill="#000" >10</text>
<line x1="325.7" y1="114.8" x2="328.3" y2="114.8" stroke="#000" stroke-width="0.9"/>
<text x="323.8" y="117.24" font-size="6.8" text-anchor="end" fill="#000" >20</text>
<line x1="325.7" y1="102.9" x2="328.3" y2="102.9" stroke="#000" stroke-width="0.9"/>
<text x="323.8" y="105.31" font-size="6.8" text-anchor="end" fill="#000" >30</text>
<line x1="325.7" y1="91.0" x2="328.3" y2="91.0" stroke="#000" stroke-width="0.9"/>
<text x="323.8" y="93.38" font-size="6.8" text-anchor="end" fill="#000" >40</text>
<line x1="325.7" y1="79.0" x2="328.3" y2="79.0" stroke="#000" stroke-width="0.9"/>
<text x="323.8" y="81.44999999999999" font-size="6.8" text-anchor="end" fill="#000" >50</text>
<line x1="325.7" y1="67.1" x2="328.3" y2="67.1" stroke="#000" stroke-width="0.9"/>
<text x="323.8" y="69.52" font-size="6.8" text-anchor="end" fill="#000" >60</text>
<line x1="325.7" y1="55.2" x2="328.3" y2="55.2" stroke="#000" stroke-width="0.9"/>
<text x="323.8" y="57.58999999999998" font-size="6.8" text-anchor="end" fill="#000" >70</text>
<line x1="325.7" y1="43.3" x2="328.3" y2="43.3" stroke="#000" stroke-width="0.9"/>
<text x="323.8" y="45.65999999999999" font-size="6.8" text-anchor="end" fill="#000" >80</text>
<line x1="325.7" y1="31.3" x2="328.3" y2="31.3" stroke="#000" stroke-width="0.9"/>
<text x="323.8" y="33.72999999999998" font-size="6.8" text-anchor="end" fill="#000" >90</text>
<line x1="325.7" y1="19.4" x2="328.3" y2="19.4" stroke="#000" stroke-width="0.9"/>
<text x="323.8" y="21.799999999999976" font-size="6.8" text-anchor="end" fill="#000" >100</text>
<line x1="328.30" y1="138.7" x2="328.30" y2="140.7" stroke="#000" stroke-width="0.75"/>
<line x1="330.47" y1="138.7" x2="330.47" y2="140.7" stroke="#000" stroke-width="0.75"/>
<line x1="332.64" y1="138.7" x2="332.64" y2="140.7" stroke="#000" stroke-width="0.75"/>
<line x1="334.81" y1="138.7" x2="334.81" y2="140.7" stroke="#000" stroke-width="0.75"/>
<line x1="336.98" y1="138.7" x2="336.98" y2="140.7" stroke="#000" stroke-width="0.75"/>
<line x1="339.15" y1="138.7" x2="339.15" y2="140.7" stroke="#000" stroke-width="0.75"/>
<line x1="341.32" y1="138.7" x2="341.32" y2="140.7" stroke="#000" stroke-width="0.75"/>
<line x1="343.49" y1="138.7" x2="343.49" y2="140.7" stroke="#000" stroke-width="0.75"/>
<line x1="345.66" y1="138.7" x2="345.66" y2="140.7" stroke="#000" stroke-width="0.75"/>
<line x1="347.83" y1="138.7" x2="347.83" y2="140.7" stroke="#000" stroke-width="0.75"/>
<line x1="350.00" y1="138.7" x2="350.00" y2="140.7" stroke="#000" stroke-width="0.75"/>
<line x1="352.17" y1="138.7" x2="352.17" y2="140.7" stroke="#000" stroke-width="0.75"/>
<line x1="354.34" y1="138.7" x2="354.34" y2="140.7" stroke="#000" stroke-width="0.75"/>
<line x1="356.51" y1="138.7" x2="356.51" y2="140.7" stroke="#000" stroke-width="0.75"/>
<line x1="358.68" y1="138.7" x2="358.68" y2="140.7" stroke="#000" stroke-width="0.75"/>
<line x1="360.85" y1="138.7" x2="360.85" y2="140.7" stroke="#000" stroke-width="0.75"/>
<line x1="363.02" y1="138.7" x2="363.02" y2="140.7" stroke="#000" stroke-width="0.75"/>
<line x1="365.19" y1="138.7" x2="365.19" y2="140.7" stroke="#000" stroke-width="0.75"/>
<line x1="367.36" y1="138.7" x2="367.36" y2="140.7" stroke="#000" stroke-width="0.75"/>
<line x1="369.53" y1="138.7" x2="369.53" y2="140.7" stroke="#000" stroke-width="0.75"/>
<line x1="371.70" y1="138.7" x2="371.70" y2="140.7" stroke="#000" stroke-width="0.75"/>
<line x1="373.87" y1="138.7" x2="373.87" y2="140.7" stroke="#000" stroke-width="0.75"/>
<line x1="376.04" y1="138.7" x2="376.04" y2="140.7" stroke="#000" stroke-width="0.75"/>
<line x1="378.21" y1="138.7" x2="378.21" y2="140.7" stroke="#000" stroke-width="0.75"/>
<line x1="380.38" y1="138.7" x2="380.38" y2="140.7" stroke="#000" stroke-width="0.75"/>
<line x1="382.55" y1="138.7" x2="382.55" y2="140.7" stroke="#000" stroke-width="0.75"/>
<line x1="384.72" y1="138.7" x2="384.72" y2="140.7" stroke="#000" stroke-width="0.75"/>
<line x1="386.89" y1="138.7" x2="386.89" y2="140.7" stroke="#000" stroke-width="0.75"/>
<line x1="389.06" y1="138.7" x2="389.06" y2="140.7" stroke="#000" stroke-width="0.75"/>
<line x1="391.23" y1="138.7" x2="391.23" y2="140.7" stroke="#000" stroke-width="0.75"/>
<line x1="393.40" y1="138.7" x2="393.40" y2="140.7" stroke="#000" stroke-width="0.75"/>
<line x1="395.57" y1="138.7" x2="395.57" y2="140.7" stroke="#000" stroke-width="0.75"/>
<line x1="397.74" y1="138.7" x2="397.74" y2="140.7" stroke="#000" stroke-width="0.75"/>
<line x1="399.91" y1="138.7" x2="399.91" y2="140.7" stroke="#000" stroke-width="0.75"/>
<line x1="402.08" y1="138.7" x2="402.08" y2="140.7" stroke="#000" stroke-width="0.75"/>
<line x1="404.25" y1="138.7" x2="404.25" y2="140.7" stroke="#000" stroke-width="0.75"/>
<line x1="406.42" y1="138.7" x2="406.42" y2="140.7" stroke="#000" stroke-width="0.75"/>
<line x1="408.59" y1="138.7" x2="408.59" y2="140.7" stroke="#000" stroke-width="0.75"/>
<line x1="410.76" y1="138.7" x2="410.76" y2="140.7" stroke="#000" stroke-width="0.75"/>
<line x1="412.93" y1="138.7" x2="412.93" y2="140.7" stroke="#000" stroke-width="0.75"/>
<line x1="415.10" y1="138.7" x2="415.10" y2="140.7" stroke="#000" stroke-width="0.75"/>
<line x1="417.27" y1="138.7" x2="417.27" y2="140.7" stroke="#000" stroke-width="0.75"/>
<line x1="419.44" y1="138.7" x2="419.44" y2="140.7" stroke="#000" stroke-width="0.75"/>
<line x1="421.61" y1="138.7" x2="421.61" y2="140.7" stroke="#000" stroke-width="0.75"/>
<line x1="423.78" y1="138.7" x2="423.78" y2="140.7" stroke="#000" stroke-width="0.75"/>
<line x1="425.95" y1="138.7" x2="425.95" y2="140.7" stroke="#000" stroke-width="0.75"/>
<line x1="428.12" y1="138.7" x2="428.12" y2="140.7" stroke="#000" stroke-width="0.75"/>
<line x1="430.29" y1="138.7" x2="430.29" y2="140.7" stroke="#000" stroke-width="0.75"/>
<line x1="432.46" y1="138.7" x2="432.46" y2="140.7" stroke="#000" stroke-width="0.75"/>
<line x1="434.63" y1="138.7" x2="434.63" y2="140.7" stroke="#000" stroke-width="0.75"/>
<line x1="436.80" y1="138.7" x2="436.80" y2="140.7" stroke="#000" stroke-width="0.75"/>
<line x1="438.97" y1="138.7" x2="438.97" y2="140.7" stroke="#000" stroke-width="0.75"/>
<line x1="441.14" y1="138.7" x2="441.14" y2="140.7" stroke="#000" stroke-width="0.75"/>
<line x1="443.31" y1="138.7" x2="443.31" y2="140.7" stroke="#000" stroke-width="0.75"/>
<line x1="445.48" y1="138.7" x2="445.48" y2="140.7" stroke="#000" stroke-width="0.75"/>
<line x1="447.65" y1="138.7" x2="447.65" y2="140.7" stroke="#000" stroke-width="0.75"/>
<line x1="449.82" y1="138.7" x2="449.82" y2="140.7" stroke="#000" stroke-width="0.75"/>
<line x1="451.99" y1="138.7" x2="451.99" y2="140.7" stroke="#000" stroke-width="0.75"/>
<line x1="454.16" y1="138.7" x2="454.16" y2="140.7" stroke="#000" stroke-width="0.75"/>
<line x1="456.33" y1="138.7" x2="456.33" y2="140.7" stroke="#000" stroke-width="0.75"/>
<line x1="458.50" y1="138.7" x2="458.50" y2="140.7" stroke="#000" stroke-width="0.75"/>
<line x1="460.67" y1="138.7" x2="460.67" y2="140.7" stroke="#000" stroke-width="0.75"/>
<line x1="462.84" y1="138.7" x2="462.84" y2="140.7" stroke="#000" stroke-width="0.75"/>
<line x1="465.01" y1="138.7" x2="465.01" y2="140.7" stroke="#000" stroke-width="0.75"/>
<line x1="467.18" y1="138.7" x2="467.18" y2="140.7" stroke="#000" stroke-width="0.75"/>
<line x1="469.35" y1="138.7" x2="469.35" y2="140.7" stroke="#000" stroke-width="0.75"/>
<line x1="471.52" y1="138.7" x2="471.52" y2="140.7" stroke="#000" stroke-width="0.75"/>
<line x1="473.69" y1="138.7" x2="473.69" y2="140.7" stroke="#000" stroke-width="0.75"/>
<line x1="475.86" y1="138.7" x2="475.86" y2="140.7" stroke="#000" stroke-width="0.75"/>
<line x1="478.03" y1="138.7" x2="478.03" y2="140.7" stroke="#000" stroke-width="0.75"/>
<line x1="480.20" y1="138.7" x2="480.20" y2="140.7" stroke="#000" stroke-width="0.75"/>
<line x1="482.37" y1="138.7" x2="482.37" y2="140.7" stroke="#000" stroke-width="0.75"/>
<line x1="484.54" y1="138.7" x2="484.54" y2="140.7" stroke="#000" stroke-width="0.75"/>
<line x1="486.71" y1="138.7" x2="486.71" y2="140.7" stroke="#000" stroke-width="0.75"/>
<line x1="488.88" y1="138.7" x2="488.88" y2="140.7" stroke="#000" stroke-width="0.75"/>
<line x1="491.05" y1="138.7" x2="491.05" y2="140.7" stroke="#000" stroke-width="0.75"/>
<line x1="493.22" y1="138.7" x2="493.22" y2="140.7" stroke="#000" stroke-width="0.75"/>
<line x1="495.39" y1="138.7" x2="495.39" y2="140.7" stroke="#000" stroke-width="0.75"/>
<line x1="497.56" y1="138.7" x2="497.56" y2="140.7" stroke="#000" stroke-width="0.75"/>
<line x1="499.73" y1="138.7" x2="499.73" y2="140.7" stroke="#000" stroke-width="0.75"/>
<line x1="501.90" y1="138.7" x2="501.90" y2="140.7" stroke="#000" stroke-width="0.75"/>
<line x1="504.07" y1="138.7" x2="504.07" y2="140.7" stroke="#000" stroke-width="0.75"/>
<line x1="506.24" y1="138.7" x2="506.24" y2="140.7" stroke="#000" stroke-width="0.75"/>
<line x1="508.41" y1="138.7" x2="508.41" y2="140.7" stroke="#000" stroke-width="0.75"/>
<line x1="510.58" y1="138.7" x2="510.58" y2="140.7" stroke="#000" stroke-width="0.75"/>
<line x1="512.75" y1="138.7" x2="512.75" y2="140.7" stroke="#000" stroke-width="0.75"/>
<text x="329.2" y="151.9" font-size="7.4" text-anchor="middle" fill="#000" >1</text>
<text x="337.92" y="151.9" font-size="7.4" text-anchor="middle" fill="#000" >5</text>
<text x="346.64" y="151.9" font-size="7.4" text-anchor="middle" fill="#000" >9</text>
<text x="355.36" y="151.9" font-size="7.4" text-anchor="middle" fill="#000" >13</text>
<text x="364.08" y="151.9" font-size="7.4" text-anchor="middle" fill="#000" >17</text>
<text x="372.8" y="151.9" font-size="7.4" text-anchor="middle" fill="#000" >21</text>
<text x="381.52" y="151.9" font-size="7.4" text-anchor="middle" fill="#000" >25</text>
<text x="390.24" y="151.9" font-size="7.4" text-anchor="middle" fill="#000" >29</text>
<text x="398.96" y="151.9" font-size="7.4" text-anchor="middle" fill="#000" >33</text>
<text x="407.68" y="151.9" font-size="7.4" text-anchor="middle" fill="#000" >37</text>
<text x="416.4" y="151.9" font-size="7.4" text-anchor="middle" fill="#000" >41</text>
<text x="425.12" y="151.9" font-size="7.4" text-anchor="middle" fill="#000" >45</text>
<text x="433.84000000000003" y="151.9" font-size="7.4" text-anchor="middle" fill="#000" >49</text>
<text x="442.56" y="151.9" font-size="7.4" text-anchor="middle" fill="#000" >53</text>
<text x="451.28" y="151.9" font-size="7.4" text-anchor="middle" fill="#000" >57</text>
<text x="460.0" y="151.9" font-size="7.4" text-anchor="middle" fill="#000" >61</text>
<text x="468.72" y="151.9" font-size="7.4" text-anchor="middle" fill="#000" >65</text>
<text x="477.44" y="151.9" font-size="7.4" text-anchor="middle" fill="#000" >69</text>
<text x="486.15999999999997" y="151.9" font-size="7.4" text-anchor="middle" fill="#000" >73</text>
<text x="494.88" y="151.9" font-size="7.4" text-anchor="middle" fill="#000" >77</text>
<text x="503.6" y="151.9" font-size="7.4" text-anchor="middle" fill="#000" >81</text>
<text x="512.3199999999999" y="151.9" font-size="7.4" text-anchor="middle" fill="#000" >85</text>
<text x="420.5" y="166.0" font-size="7.8" font-weight="bold" text-anchor="middle" fill="#000" >Days on Ribavirin</text>
<text transform="translate(305.0,82.8) rotate(-90)" x="0" y="2.55" font-size="7.3" font-weight="bold" text-anchor="middle" fill="#000">% Blasts</text>
<rect x="327.55" y="105.45" width="3.5" height="3.5" fill="#4c74cc" transform="rotate(45 329.3 107.2)"/>
<rect x="334.15" y="95.65" width="3.5" height="3.5" fill="#4c74cc" transform="rotate(45 335.9 97.4)"/>
<rect x="342.65" y="116.25" width="3.5" height="3.5" fill="#4c74cc" transform="rotate(45 344.4 118)"/>
<rect x="349.25" y="61.15" width="3.5" height="3.5" fill="#4c74cc" transform="rotate(45 351 62.9)"/>
<rect x="357.85" y="66.05" width="3.5" height="3.5" fill="#4c74cc" transform="rotate(45 359.6 67.8)"/>
<rect x="364.75" y="64.85" width="3.5" height="3.5" fill="#4c74cc" transform="rotate(45 366.5 66.6)"/>
<rect x="373.25" y="129.15" width="3.5" height="3.5" fill="#4c74cc" transform="rotate(45 375 130.9)"/>
<rect x="379.85" y="126.75" width="3.5" height="3.5" fill="#4c74cc" transform="rotate(45 381.6 128.5)"/>
<rect x="388.45" y="106.65" width="3.5" height="3.5" fill="#4c74cc" transform="rotate(45 390.2 108.4)"/>
<rect x="392.85" y="121.05" width="3.5" height="3.5" fill="#4c74cc" transform="rotate(45 394.6 122.8)"/>
<rect x="396.95" y="130.65" width="3.5" height="3.5" fill="#4c74cc" transform="rotate(45 398.7 132.4)"/>
<rect x="401.35" y="124.25" width="3.5" height="3.5" fill="#4c74cc" transform="rotate(45 403.1 126)"/>
<rect x="403.85" y="126.75" width="3.5" height="3.5" fill="#4c74cc" transform="rotate(45 405.6 128.5)"/>
<rect x="418.55" y="128.05" width="3.5" height="3.5" fill="#4c74cc" transform="rotate(45 420.3 129.8)"/>
<rect x="436.35" y="124.55" width="3.5" height="3.5" fill="#4c74cc" transform="rotate(45 438.1 126.3)"/>
<rect x="451.35" y="123.55" width="3.5" height="3.5" fill="#4c74cc" transform="rotate(45 453.1 125.3)"/>
<rect x="464.35" y="136.15" width="3.5" height="3.5" fill="#4c74cc" transform="rotate(45 466.1 137.9)"/>
<rect x="481.65" y="85.35" width="3.5" height="3.5" fill="#4c74cc" transform="rotate(45 483.4 87.1)"/>
<rect x="492.45" y="44.55" width="3.5" height="3.5" fill="#4c74cc" transform="rotate(45 494.2 46.3)"/>
<rect x="501.25" y="61.55" width="3.5" height="3.5" fill="#4c74cc" transform="rotate(45 503 63.3)"/>
<rect x="327.6" y="23.0" width="4" height="4" fill="#cc1133"/>
<rect x="388.2" y="89.4" width="4" height="4" fill="#cc1133"/>
<rect x="450.8" y="101.7" width="4" height="4" fill="#cc1133"/>
<rect x="507.4" y="40.8" width="4" height="4" fill="#cc1133"/>
<filter id="cb" x="-30%" y="-30%" width="160%" height="160%"><feGaussianBlur stdDeviation="0.55"/></filter>
<radialGradient id="gG"><stop offset="0" stop-color="#2f7fc0"/><stop offset="0.55" stop-color="#34b090"/><stop offset="0.85" stop-color="#40d068"/><stop offset="1" stop-color="#30a060"/></radialGradient>
<radialGradient id="gT"><stop offset="0" stop-color="#2c68c8"/><stop offset="0.6" stop-color="#2e98b0"/><stop offset="0.88" stop-color="#38c080"/><stop offset="1" stop-color="#2a9070"/></radialGradient>
<radialGradient id="gB"><stop offset="0" stop-color="#2448d8"/><stop offset="0.6" stop-color="#2860d0"/><stop offset="0.9" stop-color="#2e90b8"/><stop offset="1" stop-color="#2870a8"/></radialGradient>
<radialGradient id="gD"><stop offset="0" stop-color="#1c38d8"/><stop offset="0.75" stop-color="#2048e0"/><stop offset="1" stop-color="#2858c0"/></radialGradient>
<radialGradient id="gM"><stop offset="0" stop-color="#22508c"/><stop offset="0.7" stop-color="#2a68a4"/><stop offset="1" stop-color="#1c4a80"/></radialGradient>
<radialGradient id="gL"><stop offset="0" stop-color="#2a58cc"/><stop offset="0.65" stop-color="#2a62c8"/><stop offset="0.88" stop-color="#2e9ab0"/><stop offset="1" stop-color="#34b880"/></radialGradient>
<radialGradient id="gN"><stop offset="0" stop-color="#2050b0"/><stop offset="0.6" stop-color="#2a70a8"/><stop offset="0.88" stop-color="#30a070"/><stop offset="1" stop-color="#207050"/></radialGradient>
<clipPath id="cc0"><rect x="315.6" y="174.4" width="49" height="49.2"/></clipPath>
<rect x="315.6" y="174.4" width="49" height="49.2" fill="#030808"/>
<text x="342.7" y="232.9" font-size="8.7" text-anchor="middle" fill="#111">before</text>
<clipPath id="cc1"><rect x="367.0" y="174.4" width="49" height="49.2"/></clipPath>
<rect x="367.0" y="174.4" width="49" height="49.2" fill="#030808"/>
<text x="392.7" y="232.9" font-size="8.7" text-anchor="middle" fill="#111">28 days</text>
<clipPath id="cc2"><rect x="418.6" y="174.4" width="49" height="49.2"/></clipPath>
<rect x="418.6" y="174.4" width="49" height="49.2" fill="#030808"/>
<text x="445.0" y="232.9" font-size="8.7" text-anchor="middle" fill="#111">56 days</text>
<clipPath id="cc3"><rect x="469.9" y="174.4" width="48.8" height="49.2"/></clipPath>
<rect x="469.9" y="174.4" width="48.8" height="49.2" fill="#030808"/>
<text x="494.7" y="232.9" font-size="8.7" text-anchor="middle" fill="#111">84 days</text>
<g clip-path="url(#cc0)"><ellipse cx="321.9" cy="192.2" rx="6.0" ry="6.0" fill="url(#gB)" filter="url(#cb)"/></g>
<g clip-path="url(#cc0)"><ellipse cx="356.8" cy="194.3" rx="5.4" ry="6.0" fill="url(#gG)" filter="url(#cb)"/></g>
<g clip-path="url(#cc0)"><ellipse cx="334.2" cy="208.7" rx="5.4" ry="5.4" fill="url(#gG)" filter="url(#cb)"/></g>
<g clip-path="url(#cc0)"><ellipse cx="355.3" cy="212.3" rx="5.6" ry="6.0" fill="url(#gG)" filter="url(#cb)"/></g>
<g clip-path="url(#cc1)"><ellipse cx="394.9" cy="182.7" rx="6.6" ry="6.6" fill="url(#gT)" filter="url(#cb)"/></g>
<g clip-path="url(#cc1)"><ellipse cx="385.4" cy="193.7" rx="6.0" ry="6.0" fill="url(#gG)" filter="url(#cb)"/></g>
<g clip-path="url(#cc1)"><ellipse cx="368.5" cy="195.4" rx="5.0" ry="5.0" fill="url(#gB)" filter="url(#cb)"/></g>
<g clip-path="url(#cc1)"><ellipse cx="401.0" cy="194.6" rx="6.6" ry="6.6" fill="url(#gL)" filter="url(#cb)"/></g>
<g clip-path="url(#cc1)"><ellipse cx="410.8" cy="203.0" rx="6.6" ry="6.6" fill="url(#gL)" filter="url(#cb)"/></g>
<g clip-path="url(#cc1)"><ellipse cx="399.8" cy="213.4" rx="6.6" ry="6.6" fill="url(#gL)" filter="url(#cb)"/></g>
<g clip-path="url(#cc1)"><ellipse cx="391.2" cy="203.79999999999998" rx="6.6" ry="6.6" fill="url(#gL)" filter="url(#cb)"/></g>
<circle cx="401" cy="203.6" r="7.5" fill="#2a54c4" filter="url(#cb)"/>
<circle cx="401.2" cy="203.4" r="1.1" fill="#0a1830" filter="url(#cb)"/>
<g clip-path="url(#cc2)"><ellipse cx="424.8" cy="185.9" rx="4.7" ry="4.7" fill="url(#gT)" filter="url(#cb)"/></g>
<g clip-path="url(#cc2)"><ellipse cx="425.9" cy="193.6" rx="4.6" ry="4.6" fill="url(#gB)" filter="url(#cb)"/></g>
<g clip-path="url(#cc2)"><ellipse cx="433.7" cy="190.7" rx="4.6" ry="4.6" fill="url(#gB)" filter="url(#cb)"/></g>
<g clip-path="url(#cc2)"><ellipse cx="441.3" cy="185.9" rx="4.3" ry="4.3" fill="url(#gD)" filter="url(#cb)"/></g>
<g clip-path="url(#cc2)"><ellipse cx="448.5" cy="183.1" rx="4.7" ry="4.7" fill="url(#gT)" filter="url(#cb)"/></g>
<g clip-path="url(#cc2)"><ellipse cx="457.0" cy="193.3" rx="4.6" ry="4.6" fill="url(#gB)" filter="url(#cb)"/></g>
<g clip-path="url(#cc2)"><ellipse cx="450.2" cy="199.6" rx="4.6" ry="4.6" fill="url(#gD)" filter="url(#cb)"/></g>
<g clip-path="url(#cc2)"><ellipse cx="460.3" cy="203.8" rx="4.6" ry="4.6" fill="url(#gT)" filter="url(#cb)"/></g>
<g clip-path="url(#cc2)"><ellipse cx="448.5" cy="207.0" rx="4.6" ry="4.6" fill="url(#gD)" filter="url(#cb)"/></g>
<g clip-path="url(#cc3)"><ellipse cx="481.9" cy="184.8" rx="6.0" ry="6.0" fill="url(#gM)" filter="url(#cb)"/></g>
<g clip-path="url(#cc3)"><ellipse cx="502.4" cy="181.6" rx="5.2" ry="5.2" fill="url(#gN)" filter="url(#cb)"/></g>
<g clip-path="url(#cc3)"><ellipse cx="509.9" cy="211.3" rx="5.6" ry="5.6" fill="url(#gM)" filter="url(#cb)"/></g>
<g clip-path="url(#cc3)"><ellipse cx="502.0" cy="220.5" rx="5.2" ry="5.2" fill="url(#gM)" filter="url(#cb)"/></g>
<filter id="bb" x="-30%" y="-60%" width="160%" height="220%"><feGaussianBlur stdDeviation="0.55"/></filter>
<line x1="313.6" y1="263.4" x2="518.5" y2="263.4" stroke="#5e5c88" stroke-width="1.3"/>
<line x1="313.6" y1="262.8" x2="313.6" y2="365.6" stroke="#8a88b8" stroke-width="1.4"/>
<line x1="457.2" y1="262.8" x2="457.2" y2="365.6" stroke="#8c8cc4" stroke-width="2.1"/>
<line x1="518.6" y1="262.8" x2="518.6" y2="365.6" stroke="#8c8cc4" stroke-width="1.5"/>
<line x1="313" y1="365.5" x2="519" y2="365.5" stroke="#8a88c0" stroke-width="1.4"/>
<text x="315.5" y="274.9" font-size="12.4" font-weight="bold" fill="#000">C</text>
<text transform="translate(359.33,301.2) rotate(-90) scale(1,1.12)" font-size="6.3" fill="#000" style="stroke-width:0.2px">Pt6 Before</text>
<text transform="translate(368.93,301.2) rotate(-90) scale(1,1.12)" font-size="6.3" fill="#000" style="stroke-width:0.2px">Pt6 1PB 28d</text>
<text transform="translate(380.63,301.2) rotate(-90) scale(1,1.12)" font-size="6.3" fill="#000" style="stroke-width:0.2px">Norm1</text>
<text transform="translate(391.33,301.2) rotate(-90) scale(1,1.12)" font-size="6.3" fill="#000" style="stroke-width:0.2px">Norm2</text>
<text transform="translate(400.73,301.2) rotate(-90) scale(1,1.12)" font-size="6.3" fill="#000" style="stroke-width:0.2px">M5</text>
<text transform="translate(410.83,301.2) rotate(-90) scale(1,1.12)" font-size="6.3" fill="#000" style="stroke-width:0.2px">Pt3 Before</text>
<text transform="translate(420.33,301.2) rotate(-90) scale(1,1.12)" font-size="6.3" fill="#000" style="stroke-width:0.2px">Pt3 56 day</text>
<text transform="translate(430.53,301.2) rotate(-90) scale(1,1.12)" font-size="6.3" fill="#000" style="stroke-width:0.2px">Pt3 112d</text>
<text transform="translate(440.53,301.2) rotate(-90) scale(1,1.12)" font-size="6.3" fill="#000" style="stroke-width:0.2px">Pt13 Before</text>
<text transform="translate(449.63,301.2) rotate(-90) scale(1,1.12)" font-size="6.3" fill="#000" style="stroke-width:0.2px">Pt13 28 day</text>
<text transform="translate(467.97,299.2) rotate(-90) scale(1,1.12)" font-size="6.4" fill="#000" style="stroke-width:0.2px">Pt10 Before</text>
<text transform="translate(477.57,299.2) rotate(-90) scale(1,1.12)" font-size="6.4" fill="#000" style="stroke-width:0.2px">Pt10 28d</text>
<text x="350.2" y="311.9" font-size="7.6" font-weight="bold" text-anchor="end" fill="#111">eIF4E</text>
<text x="350.2" y="323.0" font-size="7.6" font-weight="bold" text-anchor="end" fill="#111">&#946;-Actin</text>
<text x="350.2" y="333.9" font-size="7.6" font-weight="bold" text-anchor="end" fill="#111">NBS1</text>
<text x="350.2" y="345.4" font-size="7.6" font-weight="bold" text-anchor="end" fill="#111">PhAkt</text>
<text x="350.2" y="354.2" font-size="7.6" font-weight="bold" text-anchor="end" fill="#111">TotAkt</text>
<text x="317" y="343.8" font-size="2.8" textLength="10" lengthAdjust="spacingAndGlyphs" fill="#333">Ser473</text>
<text x="482.4" y="309.9" font-size="7.5" font-weight="bold" fill="#111">eIF4E</text>
<text x="482.4" y="322.9" font-size="7.5" font-weight="bold" fill="#111">&#946;-Actin</text>
<text x="482.4" y="333.9" font-size="7.5" font-weight="bold" fill="#111">Cyclin D1</text>
<text x="493.4" y="343.8" font-size="7.5" font-weight="bold" fill="#111">PhAkt</text>
<text x="482.4" y="353.6" font-size="7.5" font-weight="bold" fill="#111">TotAkt</text>
<text x="482.6" y="342.2" font-size="2.8" textLength="10.5" lengthAdjust="spacingAndGlyphs" fill="#333">Ser473</text>
<rect x="352.5" y="303" width="19" height="55" fill="#f7f7f7"/>
<rect x="352.9" y="307.8" width="8.0" height="3.0" rx="1.5" fill="#111" opacity="1.0" filter="url(#bb)"/>
<rect x="362.8" y="308.2" width="7.0" height="2.2" rx="1.1" fill="#a0a0a0" opacity="1.0" filter="url(#bb)"/>
<rect x="353.1" y="319.2" width="7.6" height="2.2" rx="1.1" fill="#7a7a7a" opacity="1.0" filter="url(#bb)"/>
<rect x="362.7" y="319.2" width="7.2" height="2.2" rx="1.1" fill="#8a8a8a" opacity="1.0" filter="url(#bb)"/>
<rect x="353.0" y="330.2" width="7.8" height="2.8" rx="1.4" fill="#151515" opacity="1.0" filter="url(#bb)"/>
<rect x="363.3" y="330.6" width="6.0" height="2.1" rx="1.1" fill="#707070" opacity="1.0" filter="url(#bb)"/>
<rect x="352.9" y="341.4" width="8.0" height="4.0" rx="2.0" fill="#101010" opacity="1.0" filter="url(#bb)"/>
<rect x="363.6" y="342.2" width="5.5" height="2.3" rx="1.1" fill="#7a7a7a" opacity="1.0" filter="url(#bb)"/>
<rect x="352.9" y="351.1" width="8.0" height="3.6" rx="1.8" fill="#282828" opacity="1.0" filter="url(#bb)"/>
<rect x="362.8" y="351.2" width="7.0" height="3.4" rx="1.7" fill="#5a5a5a" opacity="1.0" filter="url(#bb)"/>
<rect x="373" y="302" width="59.7" height="10.8" fill="#c4c4c4"/>
<rect x="373" y="313.5" width="59.7" height="12" fill="#f4f4f4"/>
<rect x="403.2" y="328.6" width="29.5" height="7.4" fill="#e8e8e8"/>
<rect x="375.9" y="307.7" width="5.5" height="1.8" rx="0.9" fill="#b0b0b0" opacity="1.0" filter="url(#bb)"/>
<rect x="374.0" y="317.9" width="9.2" height="2.8" rx="1.4" fill="#111" opacity="1.0" filter="url(#bb)"/>
<rect x="384.6" y="317.6" width="8.8" height="2.8" rx="1.4" fill="#111" opacity="1.0" filter="url(#bb)"/>
<rect x="394.7" y="306.8" width="9.0" height="3.6" rx="1.8" fill="#0a0a0a" opacity="1.0" filter="url(#bb)"/>
<rect x="394.8" y="318.8" width="8.8" height="3.0" rx="1.5" fill="#151515" opacity="1.0" filter="url(#bb)"/>
<rect x="404.7" y="307.1" width="7.6" height="3.0" rx="1.5" fill="#151515" opacity="1.0" filter="url(#bb)"/>
<rect x="404.3" y="318.4" width="8.4" height="3.0" rx="1.5" fill="#151515" opacity="1.0" filter="url(#bb)"/>
<rect x="404.5" y="330.8" width="8.0" height="3.0" rx="1.5" fill="#111" opacity="1.0" filter="url(#bb)"/>
<rect x="414.7" y="307.5" width="7.0" height="2.2" rx="1.1" fill="#8c8c8c" opacity="1.0" filter="url(#bb)"/>
<rect x="414.0" y="318.3" width="8.4" height="3.0" rx="1.5" fill="#151515" opacity="1.0" filter="url(#bb)"/>
<rect x="414.9" y="331.3" width="6.5" height="2.0" rx="1.0" fill="#a4a4a4" opacity="1.0" filter="url(#bb)"/>
<rect x="424.7" y="307.7" width="6.0" height="1.8" rx="0.9" fill="#acacac" opacity="1.0" filter="url(#bb)"/>
<rect x="423.5" y="318.3" width="8.4" height="3.0" rx="1.5" fill="#151515" opacity="1.0" filter="url(#bb)"/>
<rect x="424.1" y="331.1" width="7.2" height="2.4" rx="1.2" fill="#505050" opacity="1.0" filter="url(#bb)"/>
<rect x="434" y="301.8" width="18.2" height="11.6" fill="#cfcfcf"/>
<rect x="434" y="314" width="18.2" height="23" fill="#ececec"/>
<rect x="434" y="338.8" width="18.2" height="7" fill="#a8a8a8"/>
<rect x="434" y="347.3" width="18.2" height="8.8" fill="#dcdcdc"/>
<rect x="434.6" y="306.5" width="8.0" height="4.6" rx="2.3" fill="#050505" opacity="1.0" filter="url(#bb)"/>
<rect x="444.7" y="308.0" width="5.0" height="1.6" rx="0.8" fill="#b0b0b0" opacity="1.0" filter="url(#bb)"/>
<rect x="434.6" y="318.4" width="8.0" height="3.8" rx="1.9" fill="#080808" opacity="1.0" filter="url(#bb)"/>
<rect x="443.2" y="318.0" width="8.0" height="4.4" rx="2.2" fill="#050505" opacity="1.0" filter="url(#bb)"/>
<rect x="435.1" y="331.1" width="7.0" height="2.8" rx="1.4" fill="#111" opacity="1.0" filter="url(#bb)"/>
<rect x="435.1" y="340.7" width="7.0" height="2.6" rx="1.3" fill="#707070" opacity="0.7" filter="url(#bb)"/>
<rect x="443.7" y="340.9" width="7.0" height="2.2" rx="1.1" fill="#8a8a8a" opacity="0.5" filter="url(#bb)"/>
<rect x="435.1" y="350.8" width="7.0" height="2.4" rx="1.2" fill="#303030" opacity="1.0" filter="url(#bb)"/>
<rect x="443.7" y="350.8" width="7.0" height="2.4" rx="1.2" fill="#3a3a3a" opacity="1.0" filter="url(#bb)"/>
<rect x="460.6" y="302" width="20" height="12.6" fill="#ececec"/>
<rect x="460.6" y="315" width="20" height="11.5" fill="#dedede"/>
<rect x="460.6" y="327" width="20" height="9.5" fill="#f0f0f0"/>
<rect x="460.6" y="337.2" width="20" height="8.6" fill="#b8b8b8"/>
<rect x="460.6" y="346.6" width="20" height="9.4" fill="#e4e4e4"/>
<rect x="461.2" y="307.2" width="8.4" height="4.0" rx="2.0" fill="#0a0a0a" opacity="1.0" filter="url(#bb)"/>
<rect x="471.5" y="307.9" width="7.2" height="2.8" rx="1.4" fill="#8c8c8c" opacity="1.0" filter="url(#bb)"/>
<rect x="461.8" y="321.0" width="7.2" height="2.4" rx="1.2" fill="#404040" opacity="1.0" filter="url(#bb)"/>
<rect x="471.0" y="319.8" width="8.2" height="3.2" rx="1.6" fill="#151515" opacity="1.0" filter="url(#bb)"/>
<rect x="461.2" y="328.6" width="8.4" height="4.8" rx="2.4" fill="#050505" opacity="1.0" filter="url(#bb)"/>
<rect x="474.1" y="329.8" width="2.0" height="2.5" rx="1.2" fill="#909090" opacity="1.0" filter="url(#bb)"/>
<rect x="461.2" y="339.7" width="8.4" height="4.6" rx="2.3" fill="#646464" opacity="1.0" filter="url(#bb)"/>
<rect x="471.1" y="339.9" width="8.0" height="4.2" rx="2.1" fill="#8a8a8a" opacity="1.0" filter="url(#bb)"/>
<rect x="461.2" y="350.1" width="8.4" height="3.0" rx="1.5" fill="#151515" opacity="1.0" filter="url(#bb)"/>
<rect x="471.1" y="350.1" width="8.0" height="3.0" rx="1.5" fill="#222" opacity="1.0" filter="url(#bb)"/>
</svg>
</body></html>
